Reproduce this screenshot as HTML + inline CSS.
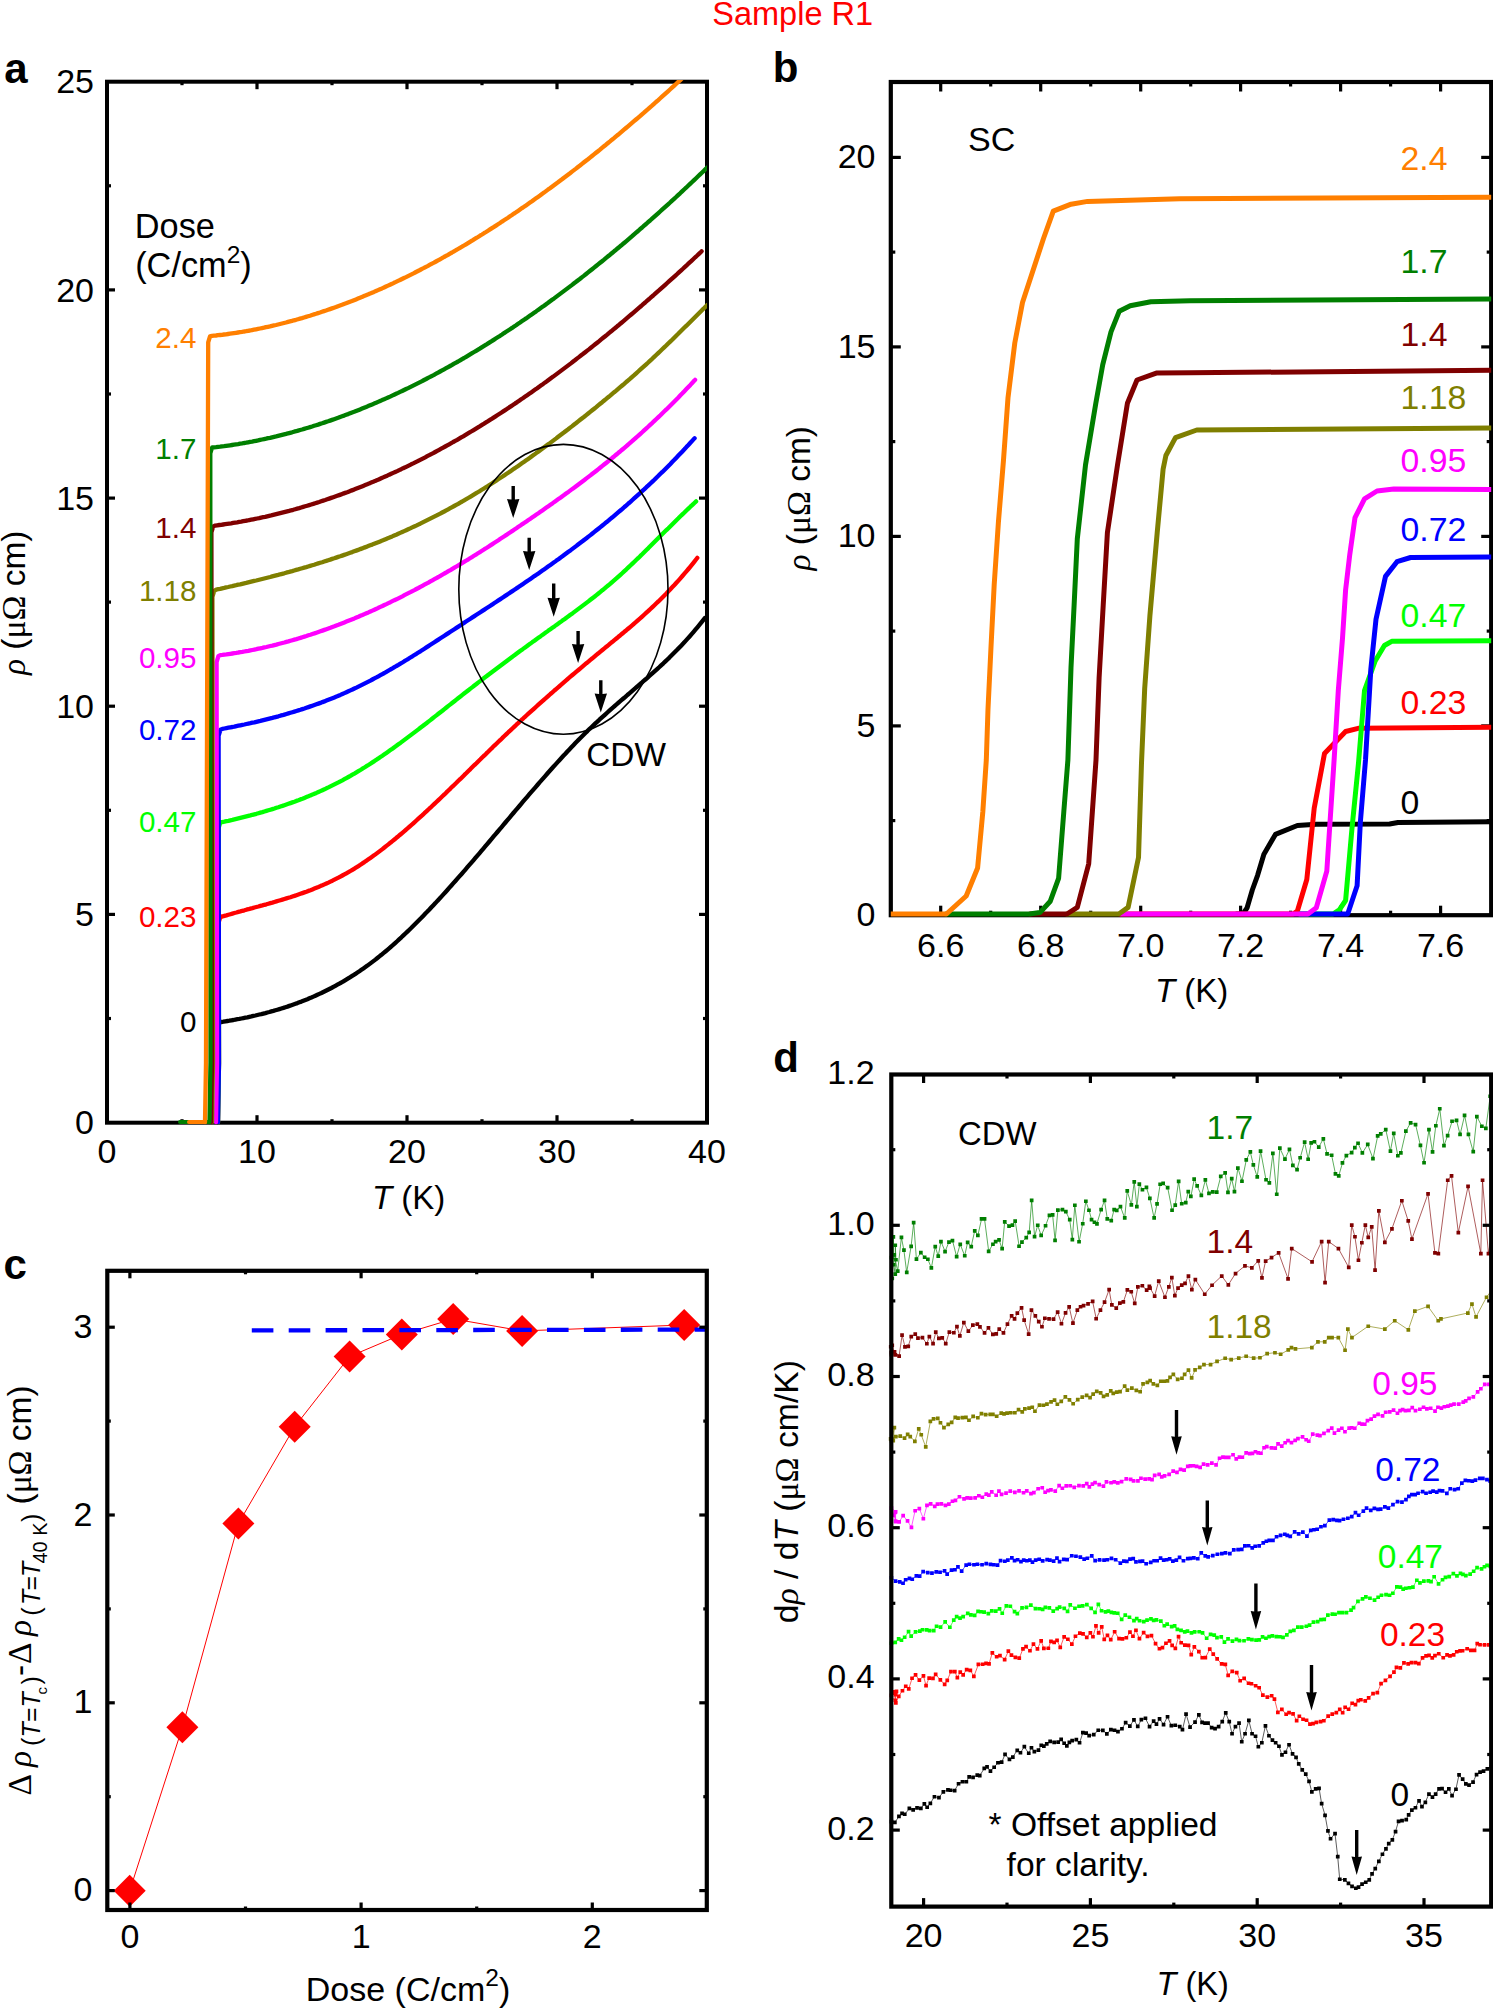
<!DOCTYPE html>
<html><head><meta charset="utf-8"><title>Sample R1</title><style>html,body{margin:0;padding:0;background:#fff;overflow:hidden}svg{display:block}</style></head><body>
<svg width="1493" height="2009" viewBox="0 0 1493 2009" font-family="'Liberation Sans', sans-serif">
<rect width="1493" height="2009" fill="#fff"/>
<text x="712.3" y="24.9" font-size="32.5" fill="#FF0000">Sample R1</text>
<text x="4.2" y="82.5" font-size="42" font-weight="bold">a</text>
<text x="772.7" y="82.2" font-size="42" font-weight="bold">b</text>
<text x="3.6" y="1278.8" font-size="42" font-weight="bold">c</text>
<text x="773.2" y="1072.2" font-size="42" font-weight="bold">d</text>
<rect x="107" y="81.7" width="600" height="1041" fill="none" stroke="#000" stroke-width="4"/>
<line x1="257" y1="1122.7" x2="257" y2="1115.2" stroke="#000" stroke-width="3.2"/>
<line x1="257" y1="81.7" x2="257" y2="89.2" stroke="#000" stroke-width="3.2"/>
<line x1="407" y1="1122.7" x2="407" y2="1115.2" stroke="#000" stroke-width="3.2"/>
<line x1="407" y1="81.7" x2="407" y2="89.2" stroke="#000" stroke-width="3.2"/>
<line x1="557" y1="1122.7" x2="557" y2="1115.2" stroke="#000" stroke-width="3.2"/>
<line x1="557" y1="81.7" x2="557" y2="89.2" stroke="#000" stroke-width="3.2"/>
<line x1="182" y1="1122.7" x2="182" y2="1119.2" stroke="#000" stroke-width="3.2"/>
<line x1="182" y1="81.7" x2="182" y2="85.2" stroke="#000" stroke-width="3.2"/>
<line x1="332" y1="1122.7" x2="332" y2="1119.2" stroke="#000" stroke-width="3.2"/>
<line x1="332" y1="81.7" x2="332" y2="85.2" stroke="#000" stroke-width="3.2"/>
<line x1="482" y1="1122.7" x2="482" y2="1119.2" stroke="#000" stroke-width="3.2"/>
<line x1="482" y1="81.7" x2="482" y2="85.2" stroke="#000" stroke-width="3.2"/>
<line x1="632" y1="1122.7" x2="632" y2="1119.2" stroke="#000" stroke-width="3.2"/>
<line x1="632" y1="81.7" x2="632" y2="85.2" stroke="#000" stroke-width="3.2"/>
<line x1="107" y1="914.4" x2="115" y2="914.4" stroke="#000" stroke-width="3.2"/>
<line x1="707" y1="914.4" x2="699" y2="914.4" stroke="#000" stroke-width="3.2"/>
<line x1="107" y1="706.2" x2="115" y2="706.2" stroke="#000" stroke-width="3.2"/>
<line x1="707" y1="706.2" x2="699" y2="706.2" stroke="#000" stroke-width="3.2"/>
<line x1="107" y1="498.1" x2="115" y2="498.1" stroke="#000" stroke-width="3.2"/>
<line x1="707" y1="498.1" x2="699" y2="498.1" stroke="#000" stroke-width="3.2"/>
<line x1="107" y1="289.9" x2="115" y2="289.9" stroke="#000" stroke-width="3.2"/>
<line x1="707" y1="289.9" x2="699" y2="289.9" stroke="#000" stroke-width="3.2"/>
<line x1="107" y1="1018.5" x2="111" y2="1018.5" stroke="#000" stroke-width="3.2"/>
<line x1="707" y1="1018.5" x2="703" y2="1018.5" stroke="#000" stroke-width="3.2"/>
<line x1="107" y1="810.3" x2="111" y2="810.3" stroke="#000" stroke-width="3.2"/>
<line x1="707" y1="810.3" x2="703" y2="810.3" stroke="#000" stroke-width="3.2"/>
<line x1="107" y1="602.1" x2="111" y2="602.1" stroke="#000" stroke-width="3.2"/>
<line x1="707" y1="602.1" x2="703" y2="602.1" stroke="#000" stroke-width="3.2"/>
<line x1="107" y1="394" x2="111" y2="394" stroke="#000" stroke-width="3.2"/>
<line x1="707" y1="394" x2="703" y2="394" stroke="#000" stroke-width="3.2"/>
<line x1="107" y1="185.8" x2="111" y2="185.8" stroke="#000" stroke-width="3.2"/>
<line x1="707" y1="185.8" x2="703" y2="185.8" stroke="#000" stroke-width="3.2"/>
<clipPath id="aclip"><rect x="107" y="80" width="600" height="1045"/></clipPath>
<g clip-path="url(#aclip)">
<path d="M180 1122 L209 1122" fill="none" stroke="#007F00" stroke-width="4" stroke-linejoin="round" stroke-linecap="round"/>
<path d="M189 1122 L205 1122" fill="none" stroke="#FF7F00" stroke-width="4" stroke-linejoin="round" stroke-linecap="round"/>
<path d="M217.5 1122.1 L218.5 1062.6 L217.6 1028.3 L219.4 1022.3 L221.4 1022 L223.4 1021.7 L225.4 1021.3 L227.4 1021 L229.4 1020.7 L231.4 1020.3 L233.4 1020 L235.4 1019.6 L237.4 1019.2 L239.4 1018.9 L241.4 1018.5 L243.4 1018.1 L245.4 1017.7 L247.4 1017.3 L249.4 1016.8 L251.4 1016.4 L253.4 1015.9 L255.4 1015.5 L257.4 1015 L259.4 1014.5 L261.4 1014.1 L263.4 1013.6 L265.4 1013.1 L267.4 1012.5 L269.4 1012 L271.4 1011.4 L273.4 1010.9 L275.4 1010.3 L277.4 1009.7 L279.4 1009.1 L281.4 1008.5 L283.4 1007.9 L285.4 1007.2 L287.4 1006.6 L289.4 1005.9 L291.4 1005.2 L293.4 1004.5 L295.4 1003.8 L297.4 1003.1 L299.4 1002.3 L301.4 1001.6 L303.4 1000.8 L305.4 1000 L307.4 999.2 L309.4 998.3 L311.4 997.5 L313.4 996.6 L315.4 995.7 L317.4 994.8 L319.4 993.9 L321.4 993 L323.4 992 L325.4 991 L327.4 990 L329.4 989 L331.4 988 L333.4 986.9 L335.4 985.8 L337.4 984.7 L339.4 983.6 L341.4 982.5 L343.4 981.3 L345.4 980.1 L347.4 978.9 L349.4 977.7 L351.4 976.4 L353.4 975.2 L355.4 973.9 L357.4 972.5 L359.4 971.2 L361.4 969.8 L363.4 968.4 L365.4 967 L367.4 965.6 L369.4 964.1 L371.4 962.6 L373.4 961.1 L375.4 959.6 L377.4 958 L379.4 956.4 L381.4 954.8 L383.4 953.1 L385.4 951.5 L387.4 949.8 L389.4 948.1 L391.4 946.3 L393.4 944.6 L395.4 942.8 L397.4 941 L399.4 939.1 L401.4 937.3 L403.4 935.4 L405.4 933.5 L407.4 931.6 L409.4 929.7 L411.4 927.8 L413.4 925.8 L415.4 923.8 L417.4 921.8 L419.4 919.8 L421.4 917.8 L423.4 915.7 L425.4 913.6 L427.4 911.6 L429.4 909.5 L431.4 907.3 L433.4 905.2 L435.4 903.1 L437.4 900.9 L439.4 898.8 L441.4 896.6 L443.4 894.4 L445.4 892.2 L447.4 890 L449.4 887.7 L451.4 885.5 L453.4 883.2 L455.4 881 L457.4 878.7 L459.4 876.4 L461.4 874.2 L463.4 871.9 L465.4 869.6 L467.4 867.2 L469.4 864.9 L471.4 862.6 L473.4 860.3 L475.4 857.9 L477.4 855.6 L479.4 853.3 L481.4 850.9 L483.4 848.6 L485.4 846.2 L487.4 843.8 L489.4 841.5 L491.4 839.1 L493.4 836.7 L495.4 834.4 L497.4 832 L499.4 829.6 L501.4 827.3 L503.4 824.9 L505.4 822.5 L507.4 820.1 L509.4 817.8 L511.4 815.4 L513.4 813 L515.4 810.7 L517.4 808.3 L519.4 806 L521.4 803.6 L523.4 801.2 L525.4 798.9 L527.4 796.6 L529.4 794.2 L531.4 791.9 L533.4 789.6 L535.4 787.3 L537.4 785 L539.4 782.6 L541.4 780.4 L543.4 778.1 L545.4 775.8 L547.4 773.5 L549.4 771.3 L551.4 769 L553.4 766.8 L555.4 764.6 L557.4 762.4 L559.4 760.2 L561.4 758 L563.4 755.8 L565.4 753.7 L567.4 751.5 L569.4 749.4 L571.4 747.3 L573.4 745.2 L575.4 743.1 L577.4 741.1 L579.4 739 L581.4 737 L583.4 735 L585.4 733 L587.4 731.1 L589.4 729.1 L591.4 727.2 L593.4 725.3 L595.4 723.4 L597.4 721.6 L599.4 719.7 L601.4 717.9 L603.4 716.1 L605.4 714.3 L607.4 712.5 L609.4 710.7 L611.4 708.9 L613.4 707.2 L615.4 705.4 L617.4 703.7 L619.4 701.9 L621.4 700.2 L623.4 698.5 L625.4 696.8 L627.4 695 L629.4 693.3 L631.4 691.6 L633.4 689.9 L635.4 688.2 L637.4 686.4 L639.4 684.7 L641.4 683 L643.4 681.2 L645.4 679.5 L647.4 677.8 L649.4 676 L651.4 674.2 L653.4 672.4 L655.4 670.6 L657.4 668.8 L659.4 667 L661.4 665.1 L663.4 663.3 L665.4 661.4 L667.4 659.5 L669.4 657.6 L671.4 655.6 L673.4 653.6 L675.4 651.6 L677.4 649.6 L679.4 647.5 L681.4 645.4 L683.4 643.3 L685.4 641.1 L687.4 638.9 L689.4 636.7 L691.4 634.4 L693.4 632.1 L695.4 629.7 L697.4 627.3 L699.4 624.9 L701.4 622.4 L703.4 619.9 L704.8 618.1" fill="none" stroke="#000000" stroke-width="4.3" stroke-linejoin="round" stroke-linecap="round"/>
<path d="M218 1122.1 L219 1062.6 L218.6 922.7 L220.4 916.7 L222.4 916.5 L224.4 915.9 L226.4 915.4 L228.4 914.8 L230.4 914.2 L232.4 913.6 L234.4 913 L236.4 912.5 L238.4 911.9 L240.4 911.4 L242.4 910.8 L244.4 910.3 L246.4 909.7 L248.4 909.2 L250.4 908.6 L252.4 908.1 L254.4 907.5 L256.4 907 L258.4 906.5 L260.4 905.9 L262.4 905.4 L264.4 904.8 L266.4 904.3 L268.4 903.7 L270.4 903.1 L272.4 902.6 L274.4 902 L276.4 901.4 L278.4 900.8 L280.4 900.2 L282.4 899.6 L284.4 899 L286.4 898.4 L288.4 897.8 L290.4 897.2 L292.4 896.5 L294.4 895.9 L296.4 895.2 L298.4 894.5 L300.4 893.8 L302.4 893.1 L304.4 892.4 L306.4 891.7 L308.4 890.9 L310.4 890.2 L312.4 889.4 L314.4 888.6 L316.4 887.8 L318.4 887 L320.4 886.1 L322.4 885.3 L324.4 884.4 L326.4 883.5 L328.4 882.6 L330.4 881.6 L332.4 880.7 L334.4 879.7 L336.4 878.7 L338.4 877.7 L340.4 876.6 L342.4 875.5 L344.4 874.4 L346.4 873.3 L348.4 872.2 L350.4 871 L352.4 869.8 L354.4 868.6 L356.4 867.3 L358.4 866.1 L360.4 864.8 L362.4 863.4 L364.4 862.1 L366.4 860.7 L368.4 859.3 L370.4 857.9 L372.4 856.5 L374.4 855.1 L376.4 853.6 L378.4 852.1 L380.4 850.6 L382.4 849.1 L384.4 847.5 L386.4 845.9 L388.4 844.4 L390.4 842.7 L392.4 841.1 L394.4 839.5 L396.4 837.8 L398.4 836.2 L400.4 834.5 L402.4 832.8 L404.4 831.1 L406.4 829.3 L408.4 827.6 L410.4 825.8 L412.4 824.1 L414.4 822.3 L416.4 820.5 L418.4 818.7 L420.4 816.9 L422.4 815.1 L424.4 813.2 L426.4 811.4 L428.4 809.5 L430.4 807.7 L432.4 805.8 L434.4 803.9 L436.4 802 L438.4 800.1 L440.4 798.2 L442.4 796.3 L444.4 794.4 L446.4 792.4 L448.4 790.5 L450.4 788.6 L452.4 786.6 L454.4 784.7 L456.4 782.8 L458.4 780.8 L460.4 778.9 L462.4 776.9 L464.4 774.9 L466.4 773 L468.4 771 L470.4 769.1 L472.4 767.1 L474.4 765.1 L476.4 763.2 L478.4 761.2 L480.4 759.3 L482.4 757.3 L484.4 755.4 L486.4 753.4 L488.4 751.5 L490.4 749.5 L492.4 747.6 L494.4 745.6 L496.4 743.7 L498.4 741.8 L500.4 739.9 L502.4 737.9 L504.4 736 L506.4 734.1 L508.4 732.2 L510.4 730.4 L512.4 728.5 L514.4 726.6 L516.4 724.7 L518.4 722.9 L520.4 721 L522.4 719.2 L524.4 717.3 L526.4 715.5 L528.4 713.7 L530.4 711.9 L532.4 710.1 L534.4 708.3 L536.4 706.5 L538.4 704.7 L540.4 702.9 L542.4 701.1 L544.4 699.3 L546.4 697.6 L548.4 695.8 L550.4 694 L552.4 692.3 L554.4 690.5 L556.4 688.8 L558.4 687.1 L560.4 685.3 L562.4 683.6 L564.4 681.9 L566.4 680.2 L568.4 678.4 L570.4 676.7 L572.4 675 L574.4 673.3 L576.4 671.6 L578.4 670 L580.4 668.3 L582.4 666.6 L584.4 664.9 L586.4 663.2 L588.4 661.6 L590.4 659.9 L592.4 658.3 L594.4 656.6 L596.4 654.9 L598.4 653.3 L600.4 651.6 L602.4 650 L604.4 648.4 L606.4 646.7 L608.4 645.1 L610.4 643.4 L612.4 641.8 L614.4 640.1 L616.4 638.5 L618.4 636.8 L620.4 635.2 L622.4 633.5 L624.4 631.8 L626.4 630.2 L628.4 628.5 L630.4 626.8 L632.4 625.1 L634.4 623.3 L636.4 621.6 L638.4 619.8 L640.4 618.1 L642.4 616.3 L644.4 614.5 L646.4 612.7 L648.4 610.9 L650.4 609 L652.4 607.1 L654.4 605.2 L656.4 603.3 L658.4 601.4 L660.4 599.4 L662.4 597.4 L664.4 595.4 L666.4 593.4 L668.4 591.3 L670.4 589.2 L672.4 587.1 L674.4 585 L676.4 582.8 L678.4 580.6 L680.4 578.3 L682.4 576 L684.4 573.7 L686.4 571.4 L688.4 569 L690.4 566.6 L692.4 564.1 L694.4 561.6 L696.4 559 L697.3 557.9" fill="none" stroke="#FF0000" stroke-width="4.3" stroke-linejoin="round" stroke-linecap="round"/>
<path d="M218 1122.1 L219 1062.6 L218.6 828.2 L220.4 822.2 L222.4 822.1 L224.4 821.7 L226.4 821.2 L228.4 820.8 L230.4 820.3 L232.4 819.9 L234.4 819.4 L236.4 818.9 L238.4 818.4 L240.4 817.9 L242.4 817.4 L244.4 816.9 L246.4 816.4 L248.4 815.9 L250.4 815.4 L252.4 814.8 L254.4 814.3 L256.4 813.8 L258.4 813.2 L260.4 812.6 L262.4 812.1 L264.4 811.5 L266.4 810.9 L268.4 810.3 L270.4 809.7 L272.4 809.1 L274.4 808.5 L276.4 807.8 L278.4 807.2 L280.4 806.5 L282.4 805.9 L284.4 805.2 L286.4 804.5 L288.4 803.8 L290.4 803.1 L292.4 802.4 L294.4 801.7 L296.4 800.9 L298.4 800.2 L300.4 799.4 L302.4 798.7 L304.4 797.9 L306.4 797.1 L308.4 796.3 L310.4 795.4 L312.4 794.6 L314.4 793.7 L316.4 792.9 L318.4 792 L320.4 791.1 L322.4 790.2 L324.4 789.3 L326.4 788.3 L328.4 787.4 L330.4 786.4 L332.4 785.4 L334.4 784.4 L336.4 783.4 L338.4 782.4 L340.4 781.3 L342.4 780.3 L344.4 779.2 L346.4 778.1 L348.4 777 L350.4 775.9 L352.4 774.7 L354.4 773.6 L356.4 772.4 L358.4 771.2 L360.4 770 L362.4 768.7 L364.4 767.5 L366.4 766.2 L368.4 765 L370.4 763.7 L372.4 762.4 L374.4 761.1 L376.4 759.7 L378.4 758.4 L380.4 757 L382.4 755.7 L384.4 754.3 L386.4 752.9 L388.4 751.5 L390.4 750.1 L392.4 748.7 L394.4 747.2 L396.4 745.8 L398.4 744.3 L400.4 742.9 L402.4 741.4 L404.4 739.9 L406.4 738.4 L408.4 736.9 L410.4 735.4 L412.4 733.9 L414.4 732.4 L416.4 730.9 L418.4 729.4 L420.4 727.8 L422.4 726.3 L424.4 724.7 L426.4 723.2 L428.4 721.6 L430.4 720.1 L432.4 718.5 L434.4 716.9 L436.4 715.4 L438.4 713.8 L440.4 712.2 L442.4 710.7 L444.4 709.1 L446.4 707.5 L448.4 705.9 L450.4 704.4 L452.4 702.8 L454.4 701.2 L456.4 699.6 L458.4 698 L460.4 696.5 L462.4 694.9 L464.4 693.3 L466.4 691.8 L468.4 690.2 L470.4 688.6 L472.4 687.1 L474.4 685.5 L476.4 684 L478.4 682.4 L480.4 680.9 L482.4 679.3 L484.4 677.8 L486.4 676.3 L488.4 674.7 L490.4 673.2 L492.4 671.7 L494.4 670.2 L496.4 668.7 L498.4 667.2 L500.4 665.7 L502.4 664.2 L504.4 662.7 L506.4 661.2 L508.4 659.7 L510.4 658.2 L512.4 656.7 L514.4 655.3 L516.4 653.8 L518.4 652.3 L520.4 650.8 L522.4 649.4 L524.4 647.9 L526.4 646.5 L528.4 645 L530.4 643.6 L532.4 642.1 L534.4 640.7 L536.4 639.2 L538.4 637.8 L540.4 636.4 L542.4 634.9 L544.4 633.5 L546.4 632.1 L548.4 630.6 L550.4 629.2 L552.4 627.8 L554.4 626.4 L556.4 624.9 L558.4 623.5 L560.4 622.1 L562.4 620.6 L564.4 619.2 L566.4 617.7 L568.4 616.3 L570.4 614.8 L572.4 613.4 L574.4 611.9 L576.4 610.4 L578.4 608.9 L580.4 607.4 L582.4 605.9 L584.4 604.4 L586.4 602.9 L588.4 601.4 L590.4 599.8 L592.4 598.2 L594.4 596.7 L596.4 595.1 L598.4 593.5 L600.4 591.9 L602.4 590.2 L604.4 588.6 L606.4 586.9 L608.4 585.3 L610.4 583.6 L612.4 581.8 L614.4 580.1 L616.4 578.4 L618.4 576.6 L620.4 574.8 L622.4 573 L624.4 571.1 L626.4 569.3 L628.4 567.4 L630.4 565.5 L632.4 563.6 L634.4 561.7 L636.4 559.8 L638.4 557.9 L640.4 555.9 L642.4 554 L644.4 552 L646.4 550 L648.4 548.1 L650.4 546.1 L652.4 544.1 L654.4 542.1 L656.4 540.1 L658.4 538.1 L660.4 536.1 L662.4 534.1 L664.4 532.1 L666.4 530.1 L668.4 528.2 L670.4 526.2 L672.4 524.2 L674.4 522.2 L676.4 520.2 L678.4 518.3 L680.4 516.3 L682.4 514.4 L684.4 512.5 L686.4 510.5 L688.4 508.6 L690.4 506.7 L692.4 504.9 L694.4 503 L696.1 501.4" fill="none" stroke="#00FF00" stroke-width="4.3" stroke-linejoin="round" stroke-linecap="round"/>
<path d="M218 1122.1 L219 1062.6 L218.6 735.8 L220.4 729.8 L222.4 728.9 L224.4 728.5 L226.4 728.1 L228.4 727.7 L230.4 727.3 L232.4 727 L234.4 726.6 L236.4 726.1 L238.4 725.7 L240.4 725.3 L242.4 724.9 L244.4 724.5 L246.4 724 L248.4 723.6 L250.4 723.2 L252.4 722.7 L254.4 722.3 L256.4 721.8 L258.4 721.3 L260.4 720.9 L262.4 720.4 L264.4 719.9 L266.4 719.4 L268.4 718.9 L270.4 718.4 L272.4 717.9 L274.4 717.3 L276.4 716.8 L278.4 716.3 L280.4 715.7 L282.4 715.2 L284.4 714.6 L286.4 714 L288.4 713.4 L290.4 712.8 L292.4 712.2 L294.4 711.6 L296.4 711 L298.4 710.4 L300.4 709.8 L302.4 709.1 L304.4 708.5 L306.4 707.8 L308.4 707.1 L310.4 706.4 L312.4 705.7 L314.4 705 L316.4 704.3 L318.4 703.6 L320.4 702.9 L322.4 702.1 L324.4 701.4 L326.4 700.6 L328.4 699.8 L330.4 699 L332.4 698.2 L334.4 697.4 L336.4 696.6 L338.4 695.7 L340.4 694.9 L342.4 694 L344.4 693.1 L346.4 692.2 L348.4 691.3 L350.4 690.4 L352.4 689.5 L354.4 688.5 L356.4 687.6 L358.4 686.6 L360.4 685.6 L362.4 684.6 L364.4 683.6 L366.4 682.6 L368.4 681.6 L370.4 680.6 L372.4 679.5 L374.4 678.4 L376.4 677.4 L378.4 676.3 L380.4 675.2 L382.4 674.1 L384.4 673 L386.4 671.8 L388.4 670.7 L390.4 669.5 L392.4 668.4 L394.4 667.2 L396.4 666 L398.4 664.9 L400.4 663.7 L402.4 662.5 L404.4 661.2 L406.4 660 L408.4 658.8 L410.4 657.5 L412.4 656.3 L414.4 655 L416.4 653.8 L418.4 652.5 L420.4 651.3 L422.4 650 L424.4 648.7 L426.4 647.4 L428.4 646.1 L430.4 644.8 L432.4 643.5 L434.4 642.2 L436.4 640.9 L438.4 639.6 L440.4 638.3 L442.4 637 L444.4 635.7 L446.4 634.4 L448.4 633.1 L450.4 631.8 L452.4 630.5 L454.4 629.2 L456.4 627.9 L458.4 626.6 L460.4 625.3 L462.4 623.9 L464.4 622.6 L466.4 621.3 L468.4 620 L470.4 618.7 L472.4 617.4 L474.4 616.1 L476.4 614.8 L478.4 613.5 L480.4 612.2 L482.4 610.9 L484.4 609.6 L486.4 608.3 L488.4 607 L490.4 605.7 L492.4 604.4 L494.4 603 L496.4 601.7 L498.4 600.4 L500.4 599.1 L502.4 597.8 L504.4 596.4 L506.4 595.1 L508.4 593.8 L510.4 592.4 L512.4 591.1 L514.4 589.8 L516.4 588.4 L518.4 587.1 L520.4 585.7 L522.4 584.4 L524.4 583 L526.4 581.6 L528.4 580.3 L530.4 578.9 L532.4 577.5 L534.4 576.1 L536.4 574.8 L538.4 573.4 L540.4 572 L542.4 570.6 L544.4 569.2 L546.4 567.8 L548.4 566.3 L550.4 564.9 L552.4 563.5 L554.4 562.1 L556.4 560.6 L558.4 559.2 L560.4 557.7 L562.4 556.3 L564.4 554.8 L566.4 553.3 L568.4 551.8 L570.4 550.4 L572.4 548.9 L574.4 547.4 L576.4 545.9 L578.4 544.3 L580.4 542.8 L582.4 541.3 L584.4 539.7 L586.4 538.2 L588.4 536.6 L590.4 535.1 L592.4 533.5 L594.4 531.9 L596.4 530.3 L598.4 528.7 L600.4 527.1 L602.4 525.5 L604.4 523.9 L606.4 522.2 L608.4 520.6 L610.4 518.9 L612.4 517.3 L614.4 515.6 L616.4 513.9 L618.4 512.2 L620.4 510.5 L622.4 508.8 L624.4 507 L626.4 505.3 L628.4 503.5 L630.4 501.8 L632.4 500 L634.4 498.2 L636.4 496.4 L638.4 494.6 L640.4 492.8 L642.4 490.9 L644.4 489.1 L646.4 487.2 L648.4 485.4 L650.4 483.5 L652.4 481.6 L654.4 479.7 L656.4 477.7 L658.4 475.8 L660.4 473.8 L662.4 471.9 L664.4 469.9 L666.4 467.9 L668.4 465.9 L670.4 463.9 L672.4 461.8 L674.4 459.8 L676.4 457.7 L678.4 455.6 L680.4 453.5 L682.4 451.4 L684.4 449.3 L686.4 447.1 L688.4 445 L690.4 442.8 L692.4 440.6 L694.4 438.4 L694.6 438.2" fill="none" stroke="#0000FF" stroke-width="4.3" stroke-linejoin="round" stroke-linecap="round"/>
<path d="M216 1122.1 L217 1062.6 L216.6 662.2 L218.4 656.2 L220.4 655.1 L222.4 654.9 L224.4 654.6 L226.4 654.4 L228.4 654.1 L230.4 653.8 L232.4 653.5 L234.4 653.2 L236.4 652.9 L238.4 652.5 L240.4 652.2 L242.4 651.9 L244.4 651.5 L246.4 651.1 L248.4 650.8 L250.4 650.4 L252.4 650 L254.4 649.6 L256.4 649.2 L258.4 648.7 L260.4 648.3 L262.4 647.9 L264.4 647.4 L266.4 647 L268.4 646.5 L270.4 646 L272.4 645.6 L274.4 645.1 L276.4 644.6 L278.4 644 L280.4 643.5 L282.4 643 L284.4 642.5 L286.4 641.9 L288.4 641.4 L290.4 640.8 L292.4 640.2 L294.4 639.6 L296.4 639.1 L298.4 638.5 L300.4 637.9 L302.4 637.2 L304.4 636.6 L306.4 636 L308.4 635.3 L310.4 634.7 L312.4 634 L314.4 633.4 L316.4 632.7 L318.4 632 L320.4 631.3 L322.4 630.6 L324.4 629.9 L326.4 629.2 L328.4 628.5 L330.4 627.8 L332.4 627 L334.4 626.3 L336.4 625.5 L338.4 624.8 L340.4 624 L342.4 623.2 L344.4 622.4 L346.4 621.6 L348.4 620.8 L350.4 620 L352.4 619.2 L354.4 618.4 L356.4 617.5 L358.4 616.7 L360.4 615.8 L362.4 615 L364.4 614.1 L366.4 613.2 L368.4 612.4 L370.4 611.5 L372.4 610.6 L374.4 609.7 L376.4 608.8 L378.4 607.8 L380.4 606.9 L382.4 606 L384.4 605 L386.4 604.1 L388.4 603.1 L390.4 602.2 L392.4 601.2 L394.4 600.2 L396.4 599.3 L398.4 598.3 L400.4 597.3 L402.4 596.3 L404.4 595.2 L406.4 594.2 L408.4 593.2 L410.4 592.2 L412.4 591.1 L414.4 590.1 L416.4 589 L418.4 588 L420.4 586.9 L422.4 585.8 L424.4 584.7 L426.4 583.6 L428.4 582.6 L430.4 581.4 L432.4 580.3 L434.4 579.2 L436.4 578.1 L438.4 577 L440.4 575.8 L442.4 574.7 L444.4 573.5 L446.4 572.4 L448.4 571.2 L450.4 570.1 L452.4 568.9 L454.4 567.7 L456.4 566.5 L458.4 565.3 L460.4 564.1 L462.4 562.9 L464.4 561.7 L466.4 560.5 L468.4 559.3 L470.4 558 L472.4 556.8 L474.4 555.5 L476.4 554.3 L478.4 553 L480.4 551.8 L482.4 550.5 L484.4 549.2 L486.4 548 L488.4 546.7 L490.4 545.4 L492.4 544.1 L494.4 542.8 L496.4 541.5 L498.4 540.2 L500.4 538.8 L502.4 537.5 L504.4 536.2 L506.4 534.9 L508.4 533.5 L510.4 532.2 L512.4 530.9 L514.4 529.5 L516.4 528.2 L518.4 526.8 L520.4 525.5 L522.4 524.1 L524.4 522.8 L526.4 521.4 L528.4 520 L530.4 518.7 L532.4 517.3 L534.4 515.9 L536.4 514.5 L538.4 513.2 L540.4 511.8 L542.4 510.4 L544.4 509 L546.4 507.6 L548.4 506.2 L550.4 504.8 L552.4 503.4 L554.4 501.9 L556.4 500.5 L558.4 499.1 L560.4 497.7 L562.4 496.2 L564.4 494.8 L566.4 493.3 L568.4 491.9 L570.4 490.4 L572.4 488.9 L574.4 487.5 L576.4 486 L578.4 484.5 L580.4 483 L582.4 481.5 L584.4 480 L586.4 478.4 L588.4 476.9 L590.4 475.4 L592.4 473.8 L594.4 472.3 L596.4 470.7 L598.4 469.1 L600.4 467.5 L602.4 465.9 L604.4 464.3 L606.4 462.7 L608.4 461.1 L610.4 459.5 L612.4 457.8 L614.4 456.2 L616.4 454.5 L618.4 452.8 L620.4 451.2 L622.4 449.5 L624.4 447.8 L626.4 446.1 L628.4 444.3 L630.4 442.6 L632.4 440.9 L634.4 439.1 L636.4 437.3 L638.4 435.6 L640.4 433.8 L642.4 432 L644.4 430.1 L646.4 428.3 L648.4 426.5 L650.4 424.6 L652.4 422.8 L654.4 420.9 L656.4 419 L658.4 417.1 L660.4 415.2 L662.4 413.2 L664.4 411.3 L666.4 409.4 L668.4 407.4 L670.4 405.4 L672.4 403.4 L674.4 401.4 L676.4 399.4 L678.4 397.4 L680.4 395.3 L682.4 393.3 L684.4 391.2 L686.4 389.1 L688.4 387 L690.4 384.9 L692.4 382.7 L694.4 380.6 L695.1 379.8" fill="none" stroke="#FF00FF" stroke-width="4.3" stroke-linejoin="round" stroke-linecap="round"/>
<path d="M212 1122.1 L213 1062.6 L212.4 596.8 L214.2 590.8 L216.2 589.6 L218.2 589.2 L220.2 588.8 L222.2 588.3 L224.2 587.9 L226.2 587.4 L228.2 587 L230.2 586.5 L232.2 586.1 L234.2 585.6 L236.2 585.2 L238.2 584.7 L240.2 584.3 L242.2 583.8 L244.2 583.3 L246.2 582.9 L248.2 582.4 L250.2 581.9 L252.2 581.4 L254.2 580.9 L256.2 580.5 L258.2 580 L260.2 579.5 L262.2 579 L264.2 578.5 L266.2 578 L268.2 577.5 L270.2 577 L272.2 576.4 L274.2 575.9 L276.2 575.4 L278.2 574.9 L280.2 574.3 L282.2 573.8 L284.2 573.3 L286.2 572.7 L288.2 572.2 L290.2 571.6 L292.2 571.1 L294.2 570.5 L296.2 569.9 L298.2 569.4 L300.2 568.8 L302.2 568.2 L304.2 567.6 L306.2 567.1 L308.2 566.5 L310.2 565.9 L312.2 565.3 L314.2 564.7 L316.2 564 L318.2 563.4 L320.2 562.8 L322.2 562.2 L324.2 561.5 L326.2 560.9 L328.2 560.2 L330.2 559.6 L332.2 558.9 L334.2 558.3 L336.2 557.6 L338.2 556.9 L340.2 556.3 L342.2 555.6 L344.2 554.9 L346.2 554.2 L348.2 553.5 L350.2 552.8 L352.2 552.1 L354.2 551.3 L356.2 550.6 L358.2 549.9 L360.2 549.1 L362.2 548.4 L364.2 547.6 L366.2 546.9 L368.2 546.1 L370.2 545.3 L372.2 544.6 L374.2 543.8 L376.2 543 L378.2 542.2 L380.2 541.4 L382.2 540.6 L384.2 539.7 L386.2 538.9 L388.2 538.1 L390.2 537.2 L392.2 536.4 L394.2 535.5 L396.2 534.7 L398.2 533.8 L400.2 532.9 L402.2 532 L404.2 531.1 L406.2 530.2 L408.2 529.3 L410.2 528.4 L412.2 527.4 L414.2 526.5 L416.2 525.6 L418.2 524.6 L420.2 523.7 L422.2 522.7 L424.2 521.7 L426.2 520.7 L428.2 519.7 L430.2 518.7 L432.2 517.7 L434.2 516.7 L436.2 515.7 L438.2 514.6 L440.2 513.6 L442.2 512.5 L444.2 511.5 L446.2 510.4 L448.2 509.3 L450.2 508.2 L452.2 507.1 L454.2 506 L456.2 504.9 L458.2 503.8 L460.2 502.6 L462.2 501.5 L464.2 500.3 L466.2 499.2 L468.2 498 L470.2 496.8 L472.2 495.6 L474.2 494.4 L476.2 493.2 L478.2 492 L480.2 490.8 L482.2 489.5 L484.2 488.3 L486.2 487 L488.2 485.8 L490.2 484.5 L492.2 483.2 L494.2 481.9 L496.2 480.6 L498.2 479.3 L500.2 478 L502.2 476.7 L504.2 475.4 L506.2 474 L508.2 472.7 L510.2 471.4 L512.2 470 L514.2 468.6 L516.2 467.3 L518.2 465.9 L520.2 464.5 L522.2 463.1 L524.2 461.7 L526.2 460.3 L528.2 458.9 L530.2 457.5 L532.2 456 L534.2 454.6 L536.2 453.1 L538.2 451.7 L540.2 450.2 L542.2 448.8 L544.2 447.3 L546.2 445.8 L548.2 444.3 L550.2 442.9 L552.2 441.4 L554.2 439.9 L556.2 438.4 L558.2 436.8 L560.2 435.3 L562.2 433.8 L564.2 432.3 L566.2 430.7 L568.2 429.2 L570.2 427.6 L572.2 426.1 L574.2 424.5 L576.2 423 L578.2 421.4 L580.2 419.8 L582.2 418.2 L584.2 416.7 L586.2 415.1 L588.2 413.5 L590.2 411.9 L592.2 410.3 L594.2 408.7 L596.2 407.1 L598.2 405.4 L600.2 403.8 L602.2 402.2 L604.2 400.5 L606.2 398.9 L608.2 397.2 L610.2 395.6 L612.2 393.9 L614.2 392.2 L616.2 390.6 L618.2 388.9 L620.2 387.2 L622.2 385.5 L624.2 383.8 L626.2 382 L628.2 380.3 L630.2 378.6 L632.2 376.8 L634.2 375.1 L636.2 373.3 L638.2 371.5 L640.2 369.7 L642.2 367.9 L644.2 366.1 L646.2 364.3 L648.2 362.5 L650.2 360.6 L652.2 358.8 L654.2 356.9 L656.2 355 L658.2 353.1 L660.2 351.2 L662.2 349.3 L664.2 347.4 L666.2 345.5 L668.2 343.5 L670.2 341.6 L672.2 339.7 L674.2 337.7 L676.2 335.7 L678.2 333.8 L680.2 331.8 L682.2 329.8 L684.2 327.8 L686.2 325.9 L688.2 323.9 L690.2 321.9 L692.2 319.9 L694.2 317.9 L696.2 315.9 L698.2 313.9 L700.2 311.9 L702.2 309.9 L704.2 308 L706.2 306 L707.2 305" fill="none" stroke="#7F7F00" stroke-width="4.3" stroke-linejoin="round" stroke-linecap="round"/>
<path d="M211 1122.1 L212 1062.6 L211.4 532.4 L213.2 526.4 L215.2 525.6 L217.2 525.3 L219.2 525 L221.2 524.8 L223.2 524.5 L225.2 524.2 L227.2 523.9 L229.2 523.6 L231.2 523.3 L233.2 522.9 L235.2 522.6 L237.2 522.3 L239.2 521.9 L241.2 521.6 L243.2 521.2 L245.2 520.8 L247.2 520.5 L249.2 520.1 L251.2 519.7 L253.2 519.3 L255.2 518.9 L257.2 518.5 L259.2 518.1 L261.2 517.6 L263.2 517.2 L265.2 516.8 L267.2 516.3 L269.2 515.8 L271.2 515.4 L273.2 514.9 L275.2 514.4 L277.2 513.9 L279.2 513.4 L281.2 512.9 L283.2 512.4 L285.2 511.9 L287.2 511.4 L289.2 510.9 L291.2 510.3 L293.2 509.8 L295.2 509.2 L297.2 508.6 L299.2 508.1 L301.2 507.5 L303.2 506.9 L305.2 506.3 L307.2 505.7 L309.2 505.1 L311.2 504.5 L313.2 503.9 L315.2 503.2 L317.2 502.6 L319.2 502 L321.2 501.3 L323.2 500.6 L325.2 500 L327.2 499.3 L329.2 498.6 L331.2 497.9 L333.2 497.2 L335.2 496.5 L337.2 495.8 L339.2 495.1 L341.2 494.4 L343.2 493.6 L345.2 492.9 L347.2 492.2 L349.2 491.4 L351.2 490.6 L353.2 489.9 L355.2 489.1 L357.2 488.3 L359.2 487.5 L361.2 486.7 L363.2 485.9 L365.2 485.1 L367.2 484.3 L369.2 483.4 L371.2 482.6 L373.2 481.8 L375.2 480.9 L377.2 480.1 L379.2 479.2 L381.2 478.3 L383.2 477.4 L385.2 476.5 L387.2 475.7 L389.2 474.7 L391.2 473.8 L393.2 472.9 L395.2 472 L397.2 471.1 L399.2 470.1 L401.2 469.2 L403.2 468.2 L405.2 467.3 L407.2 466.3 L409.2 465.3 L411.2 464.3 L413.2 463.4 L415.2 462.4 L417.2 461.4 L419.2 460.3 L421.2 459.3 L423.2 458.3 L425.2 457.3 L427.2 456.2 L429.2 455.2 L431.2 454.1 L433.2 453.1 L435.2 452 L437.2 450.9 L439.2 449.8 L441.2 448.7 L443.2 447.6 L445.2 446.5 L447.2 445.4 L449.2 444.3 L451.2 443.2 L453.2 442 L455.2 440.9 L457.2 439.8 L459.2 438.6 L461.2 437.4 L463.2 436.3 L465.2 435.1 L467.2 433.9 L469.2 432.7 L471.2 431.5 L473.2 430.3 L475.2 429.1 L477.2 427.9 L479.2 426.7 L481.2 425.4 L483.2 424.2 L485.2 422.9 L487.2 421.7 L489.2 420.4 L491.2 419.2 L493.2 417.9 L495.2 416.6 L497.2 415.3 L499.2 414 L501.2 412.7 L503.2 411.4 L505.2 410.1 L507.2 408.8 L509.2 407.4 L511.2 406.1 L513.2 404.8 L515.2 403.4 L517.2 402.1 L519.2 400.7 L521.2 399.3 L523.2 398 L525.2 396.6 L527.2 395.2 L529.2 393.8 L531.2 392.4 L533.2 391 L535.2 389.6 L537.2 388.2 L539.2 386.7 L541.2 385.3 L543.2 383.9 L545.2 382.4 L547.2 381 L549.2 379.5 L551.2 378 L553.2 376.6 L555.2 375.1 L557.2 373.6 L559.2 372.1 L561.2 370.6 L563.2 369.1 L565.2 367.6 L567.2 366.1 L569.2 364.6 L571.2 363.1 L573.2 361.5 L575.2 360 L577.2 358.4 L579.2 356.9 L581.2 355.3 L583.2 353.8 L585.2 352.2 L587.2 350.6 L589.2 349.1 L591.2 347.5 L593.2 345.9 L595.2 344.3 L597.2 342.7 L599.2 341.1 L601.2 339.4 L603.2 337.8 L605.2 336.2 L607.2 334.6 L609.2 332.9 L611.2 331.3 L613.2 329.6 L615.2 328 L617.2 326.3 L619.2 324.7 L621.2 323 L623.2 321.3 L625.2 319.6 L627.2 317.9 L629.2 316.2 L631.2 314.5 L633.2 312.8 L635.2 311.1 L637.2 309.4 L639.2 307.7 L641.2 306 L643.2 304.2 L645.2 302.5 L647.2 300.7 L649.2 299 L651.2 297.2 L653.2 295.5 L655.2 293.7 L657.2 291.9 L659.2 290.2 L661.2 288.4 L663.2 286.6 L665.2 284.8 L667.2 283 L669.2 281.2 L671.2 279.4 L673.2 277.6 L675.2 275.8 L677.2 274 L679.2 272.1 L681.2 270.3 L683.2 268.5 L685.2 266.6 L687.2 264.8 L689.2 262.9 L691.2 261.1 L693.2 259.2 L695.2 257.3 L697.2 255.5 L699.2 253.6 L701.2 251.7 L701.6 251.3" fill="none" stroke="#7F0000" stroke-width="4.3" stroke-linejoin="round" stroke-linecap="round"/>
<path d="M209.5 1122.1 L210.5 1062.6 L210.3 453.5 L212.1 447.5 L214.1 447.4 L216.1 447.2 L218.1 446.9 L220.1 446.7 L222.1 446.4 L224.1 446.2 L226.1 445.9 L228.1 445.6 L230.1 445.3 L232.1 445 L234.1 444.7 L236.1 444.4 L238.1 444.1 L240.1 443.7 L242.1 443.4 L244.1 443 L246.1 442.7 L248.1 442.3 L250.1 441.9 L252.1 441.6 L254.1 441.2 L256.1 440.8 L258.1 440.4 L260.1 439.9 L262.1 439.5 L264.1 439.1 L266.1 438.7 L268.1 438.2 L270.1 437.8 L272.1 437.3 L274.1 436.8 L276.1 436.4 L278.1 435.9 L280.1 435.4 L282.1 434.9 L284.1 434.4 L286.1 433.9 L288.1 433.3 L290.1 432.8 L292.1 432.3 L294.1 431.7 L296.1 431.2 L298.1 430.6 L300.1 430 L302.1 429.5 L304.1 428.9 L306.1 428.3 L308.1 427.7 L310.1 427.1 L312.1 426.5 L314.1 425.8 L316.1 425.2 L318.1 424.6 L320.1 423.9 L322.1 423.3 L324.1 422.6 L326.1 421.9 L328.1 421.3 L330.1 420.6 L332.1 419.9 L334.1 419.2 L336.1 418.5 L338.1 417.8 L340.1 417 L342.1 416.3 L344.1 415.6 L346.1 414.8 L348.1 414.1 L350.1 413.3 L352.1 412.5 L354.1 411.8 L356.1 411 L358.1 410.2 L360.1 409.4 L362.1 408.6 L364.1 407.8 L366.1 407 L368.1 406.1 L370.1 405.3 L372.1 404.5 L374.1 403.6 L376.1 402.8 L378.1 401.9 L380.1 401 L382.1 400.1 L384.1 399.3 L386.1 398.4 L388.1 397.5 L390.1 396.6 L392.1 395.6 L394.1 394.7 L396.1 393.8 L398.1 392.9 L400.1 391.9 L402.1 391 L404.1 390 L406.1 389 L408.1 388.1 L410.1 387.1 L412.1 386.1 L414.1 385.1 L416.1 384.1 L418.1 383.1 L420.1 382.1 L422.1 381.1 L424.1 380 L426.1 379 L428.1 377.9 L430.1 376.9 L432.1 375.8 L434.1 374.8 L436.1 373.7 L438.1 372.6 L440.1 371.5 L442.1 370.4 L444.1 369.3 L446.1 368.2 L448.1 367.1 L450.1 366 L452.1 364.9 L454.1 363.7 L456.1 362.6 L458.1 361.5 L460.1 360.3 L462.1 359.1 L464.1 358 L466.1 356.8 L468.1 355.6 L470.1 354.4 L472.1 353.2 L474.1 352 L476.1 350.8 L478.1 349.6 L480.1 348.4 L482.1 347.1 L484.1 345.9 L486.1 344.7 L488.1 343.4 L490.1 342.1 L492.1 340.9 L494.1 339.6 L496.1 338.3 L498.1 337 L500.1 335.8 L502.1 334.5 L504.1 333.1 L506.1 331.8 L508.1 330.5 L510.1 329.2 L512.1 327.9 L514.1 326.5 L516.1 325.2 L518.1 323.8 L520.1 322.5 L522.1 321.1 L524.1 319.7 L526.1 318.4 L528.1 317 L530.1 315.6 L532.1 314.2 L534.1 312.8 L536.1 311.4 L538.1 309.9 L540.1 308.5 L542.1 307.1 L544.1 305.7 L546.1 304.2 L548.1 302.8 L550.1 301.3 L552.1 299.8 L554.1 298.4 L556.1 296.9 L558.1 295.4 L560.1 293.9 L562.1 292.4 L564.1 290.9 L566.1 289.4 L568.1 287.9 L570.1 286.4 L572.1 284.9 L574.1 283.3 L576.1 281.8 L578.1 280.2 L580.1 278.7 L582.1 277.1 L584.1 275.6 L586.1 274 L588.1 272.4 L590.1 270.8 L592.1 269.2 L594.1 267.6 L596.1 266 L598.1 264.4 L600.1 262.8 L602.1 261.2 L604.1 259.6 L606.1 257.9 L608.1 256.3 L610.1 254.7 L612.1 253 L614.1 251.3 L616.1 249.7 L618.1 248 L620.1 246.3 L622.1 244.7 L624.1 243 L626.1 241.3 L628.1 239.6 L630.1 237.9 L632.1 236.2 L634.1 234.4 L636.1 232.7 L638.1 231 L640.1 229.2 L642.1 227.5 L644.1 225.7 L646.1 224 L648.1 222.2 L650.1 220.5 L652.1 218.7 L654.1 216.9 L656.1 215.1 L658.1 213.3 L660.1 211.5 L662.1 209.7 L664.1 207.9 L666.1 206.1 L668.1 204.3 L670.1 202.5 L672.1 200.6 L674.1 198.8 L676.1 197 L678.1 195.1 L680.1 193.3 L682.1 191.4 L684.1 189.5 L686.1 187.7 L688.1 185.8 L690.1 183.9 L692.1 182 L694.1 180.1 L696.1 178.2 L698.1 176.3 L700.1 174.4 L702.1 172.5 L704.1 170.6 L706.1 168.6 L707.2 167.6" fill="none" stroke="#007F00" stroke-width="4.3" stroke-linejoin="round" stroke-linecap="round"/>
<path d="M205 1122.1 L206 1062.6 L208.2 342.4 L210 336.4 L212 335.9 L214 335.7 L216 335.5 L218 335.2 L220 335 L222 334.8 L224 334.5 L226 334.3 L228 334 L230 333.7 L232 333.4 L234 333.1 L236 332.8 L238 332.5 L240 332.2 L242 331.9 L244 331.5 L246 331.2 L248 330.8 L250 330.5 L252 330.1 L254 329.7 L256 329.3 L258 328.9 L260 328.5 L262 328.1 L264 327.7 L266 327.2 L268 326.8 L270 326.4 L272 325.9 L274 325.4 L276 325 L278 324.5 L280 324 L282 323.5 L284 323 L286 322.5 L288 321.9 L290 321.4 L292 320.9 L294 320.3 L296 319.8 L298 319.2 L300 318.6 L302 318.1 L304 317.5 L306 316.9 L308 316.3 L310 315.7 L312 315 L314 314.4 L316 313.8 L318 313.1 L320 312.5 L322 311.8 L324 311.1 L326 310.5 L328 309.8 L330 309.1 L332 308.4 L334 307.7 L336 307 L338 306.2 L340 305.5 L342 304.8 L344 304 L346 303.3 L348 302.5 L350 301.7 L352 301 L354 300.2 L356 299.4 L358 298.6 L360 297.8 L362 296.9 L364 296.1 L366 295.3 L368 294.4 L370 293.6 L372 292.7 L374 291.9 L376 291 L378 290.1 L380 289.2 L382 288.4 L384 287.5 L386 286.5 L388 285.6 L390 284.7 L392 283.8 L394 282.8 L396 281.9 L398 280.9 L400 280 L402 279 L404 278 L406 277.1 L408 276.1 L410 275.1 L412 274.1 L414 273.1 L416 272 L418 271 L420 270 L422 268.9 L424 267.9 L426 266.8 L428 265.8 L430 264.7 L432 263.6 L434 262.6 L436 261.5 L438 260.4 L440 259.3 L442 258.2 L444 257 L446 255.9 L448 254.8 L450 253.6 L452 252.5 L454 251.3 L456 250.2 L458 249 L460 247.8 L462 246.7 L464 245.5 L466 244.3 L468 243.1 L470 241.9 L472 240.7 L474 239.4 L476 238.2 L478 237 L480 235.7 L482 234.5 L484 233.2 L486 232 L488 230.7 L490 229.4 L492 228.1 L494 226.9 L496 225.6 L498 224.3 L500 223 L502 221.6 L504 220.3 L506 219 L508 217.7 L510 216.3 L512 215 L514 213.6 L516 212.3 L518 210.9 L520 209.5 L522 208.1 L524 206.8 L526 205.4 L528 204 L530 202.6 L532 201.2 L534 199.7 L536 198.3 L538 196.9 L540 195.5 L542 194 L544 192.6 L546 191.1 L548 189.6 L550 188.2 L552 186.7 L554 185.2 L556 183.7 L558 182.3 L560 180.8 L562 179.3 L564 177.7 L566 176.2 L568 174.7 L570 173.2 L572 171.6 L574 170.1 L576 168.6 L578 167 L580 165.5 L582 163.9 L584 162.3 L586 160.7 L588 159.2 L590 157.6 L592 156 L594 154.4 L596 152.8 L598 151.2 L600 149.6 L602 147.9 L604 146.3 L606 144.7 L608 143 L610 141.4 L612 139.7 L614 138.1 L616 136.4 L618 134.8 L620 133.1 L622 131.4 L624 129.7 L626 128 L628 126.3 L630 124.6 L632 122.9 L634 121.2 L636 119.5 L638 117.8 L640 116.1 L642 114.3 L644 112.6 L646 110.8 L648 109.1 L650 107.3 L652 105.6 L654 103.8 L656 102 L658 100.3 L660 98.5 L662 96.7 L664 94.9 L666 93.1 L668 91.3 L670 89.5 L672 87.7 L674 85.9 L676 84 L678 82.2 L680 80.4 L682 78.5 L684 76.7" fill="none" stroke="#FF7F00" stroke-width="4.3" stroke-linejoin="round" stroke-linecap="round"/>
</g>
<ellipse cx="563.4" cy="589.3" rx="104.6" ry="144.9" fill="none" stroke="#000" stroke-width="1.6"/>
<path d="M511.5 485.9 L514.9 485.9 L514.9 499.6 L519.4 499.1 L513.2 518.1 L507 499.1 L511.5 499.6 Z" fill="#000"/>
<path d="M527.5 537.8 L530.9 537.8 L530.9 551.5 L535.4 551 L529.2 570 L523 551 L527.5 551.5 Z" fill="#000"/>
<path d="M552 583.5 L555.4 583.5 L555.4 598.2 L559.9 597.7 L553.7 616.7 L547.5 597.7 L552 598.2 Z" fill="#000"/>
<path d="M576.4 630.9 L579.8 630.9 L579.8 644.4 L584.3 643.9 L578.1 662.9 L571.9 643.9 L576.4 644.4 Z" fill="#000"/>
<path d="M599.1 680.2 L602.5 680.2 L602.5 694 L607 693.5 L600.8 712.5 L594.6 693.5 L599.1 694 Z" fill="#000"/>
<text x="107" y="1163.3" font-size="34" text-anchor="middle">0</text>
<text x="257" y="1163.3" font-size="34" text-anchor="middle">10</text>
<text x="407" y="1163.3" font-size="34" text-anchor="middle">20</text>
<text x="557" y="1163.3" font-size="34" text-anchor="middle">30</text>
<text x="707" y="1163.3" font-size="34" text-anchor="middle">40</text>
<text x="94" y="1134.2" font-size="34" text-anchor="end">0</text>
<text x="94" y="926" font-size="34" text-anchor="end">5</text>
<text x="94" y="717.8" font-size="34" text-anchor="end">10</text>
<text x="94" y="509.7" font-size="34" text-anchor="end">15</text>
<text x="94" y="301.5" font-size="34" text-anchor="end">20</text>
<text x="94" y="93.3" font-size="34" text-anchor="end">25</text>
<text x="372" y="1208.6" font-size="33"><tspan font-style="italic">T</tspan> (K)</text>
<text transform="translate(24.8,602.8) rotate(-90)" text-anchor="middle" font-size="33.5"><tspan font-family="'Liberation Serif', serif" font-style="italic">ρ</tspan> (<tspan font-family="'Liberation Serif', serif">μΩ</tspan> cm)</text>
<text x="134.8" y="237.8" font-size="34.3">Dose</text>
<text x="135.2" y="277.3" font-size="34.3">(C/cm<tspan font-size="24.5" dy="-14.5">2</tspan><tspan dy="14.5">)</tspan></text>
<text x="196.5" y="347.9" font-size="29.6" text-anchor="end" fill="#FF7F00">2.4</text>
<text x="196.5" y="458.9" font-size="29.6" text-anchor="end" fill="#007F00">1.7</text>
<text x="196.5" y="537.8" font-size="29.6" text-anchor="end" fill="#7F0000">1.4</text>
<text x="196.5" y="601.1" font-size="29.6" text-anchor="end" fill="#7F7F00">1.18</text>
<text x="196.5" y="667.6" font-size="29.6" text-anchor="end" fill="#FF00FF">0.95</text>
<text x="196.5" y="740.2" font-size="29.6" text-anchor="end" fill="#0000FF">0.72</text>
<text x="196.5" y="831.6" font-size="29.6" text-anchor="end" fill="#00FF00">0.47</text>
<text x="196.5" y="927.1" font-size="29.6" text-anchor="end" fill="#FF0000">0.23</text>
<text x="196.5" y="1031.6" font-size="29.6" text-anchor="end">0</text>
<text x="586.2" y="766" font-size="33.4">CDW</text>
<rect x="890.8" y="82" width="600.4" height="833.2" fill="none" stroke="#000" stroke-width="4.2"/>
<line x1="940.7" y1="915.2" x2="940.7" y2="905.7" stroke="#000" stroke-width="3.2"/>
<line x1="940.7" y1="82" x2="940.7" y2="91.5" stroke="#000" stroke-width="3.2"/>
<line x1="1040.7" y1="915.2" x2="1040.7" y2="905.7" stroke="#000" stroke-width="3.2"/>
<line x1="1040.7" y1="82" x2="1040.7" y2="91.5" stroke="#000" stroke-width="3.2"/>
<line x1="1140.7" y1="915.2" x2="1140.7" y2="905.7" stroke="#000" stroke-width="3.2"/>
<line x1="1140.7" y1="82" x2="1140.7" y2="91.5" stroke="#000" stroke-width="3.2"/>
<line x1="1240.6" y1="915.2" x2="1240.6" y2="905.7" stroke="#000" stroke-width="3.2"/>
<line x1="1240.6" y1="82" x2="1240.6" y2="91.5" stroke="#000" stroke-width="3.2"/>
<line x1="1340.6" y1="915.2" x2="1340.6" y2="905.7" stroke="#000" stroke-width="3.2"/>
<line x1="1340.6" y1="82" x2="1340.6" y2="91.5" stroke="#000" stroke-width="3.2"/>
<line x1="1440.6" y1="915.2" x2="1440.6" y2="905.7" stroke="#000" stroke-width="3.2"/>
<line x1="1440.6" y1="82" x2="1440.6" y2="91.5" stroke="#000" stroke-width="3.2"/>
<line x1="990.7" y1="915.2" x2="990.7" y2="910.7" stroke="#000" stroke-width="3.2"/>
<line x1="990.7" y1="82" x2="990.7" y2="86.5" stroke="#000" stroke-width="3.2"/>
<line x1="1090.7" y1="915.2" x2="1090.7" y2="910.7" stroke="#000" stroke-width="3.2"/>
<line x1="1090.7" y1="82" x2="1090.7" y2="86.5" stroke="#000" stroke-width="3.2"/>
<line x1="1190.7" y1="915.2" x2="1190.7" y2="910.7" stroke="#000" stroke-width="3.2"/>
<line x1="1190.7" y1="82" x2="1190.7" y2="86.5" stroke="#000" stroke-width="3.2"/>
<line x1="1290.6" y1="915.2" x2="1290.6" y2="910.7" stroke="#000" stroke-width="3.2"/>
<line x1="1290.6" y1="82" x2="1290.6" y2="86.5" stroke="#000" stroke-width="3.2"/>
<line x1="1390.6" y1="915.2" x2="1390.6" y2="910.7" stroke="#000" stroke-width="3.2"/>
<line x1="1390.6" y1="82" x2="1390.6" y2="86.5" stroke="#000" stroke-width="3.2"/>
<line x1="890.8" y1="725.9" x2="900.8" y2="725.9" stroke="#000" stroke-width="3.2"/>
<line x1="1491.2" y1="725.9" x2="1481.2" y2="725.9" stroke="#000" stroke-width="3.2"/>
<line x1="890.8" y1="536.4" x2="900.8" y2="536.4" stroke="#000" stroke-width="3.2"/>
<line x1="1491.2" y1="536.4" x2="1481.2" y2="536.4" stroke="#000" stroke-width="3.2"/>
<line x1="890.8" y1="346.9" x2="900.8" y2="346.9" stroke="#000" stroke-width="3.2"/>
<line x1="1491.2" y1="346.9" x2="1481.2" y2="346.9" stroke="#000" stroke-width="3.2"/>
<line x1="890.8" y1="157.4" x2="900.8" y2="157.4" stroke="#000" stroke-width="3.2"/>
<line x1="1491.2" y1="157.4" x2="1481.2" y2="157.4" stroke="#000" stroke-width="3.2"/>
<line x1="890.8" y1="820.6" x2="895.3" y2="820.6" stroke="#000" stroke-width="3.2"/>
<line x1="1491.2" y1="820.6" x2="1486.7" y2="820.6" stroke="#000" stroke-width="3.2"/>
<line x1="890.8" y1="631.1" x2="895.3" y2="631.1" stroke="#000" stroke-width="3.2"/>
<line x1="1491.2" y1="631.1" x2="1486.7" y2="631.1" stroke="#000" stroke-width="3.2"/>
<line x1="890.8" y1="441.6" x2="895.3" y2="441.6" stroke="#000" stroke-width="3.2"/>
<line x1="1491.2" y1="441.6" x2="1486.7" y2="441.6" stroke="#000" stroke-width="3.2"/>
<line x1="890.8" y1="252.1" x2="895.3" y2="252.1" stroke="#000" stroke-width="3.2"/>
<line x1="1491.2" y1="252.1" x2="1486.7" y2="252.1" stroke="#000" stroke-width="3.2"/>
<clipPath id="bclip"><rect x="890.8" y="80" width="600.4" height="837.3"/></clipPath>
<g clip-path="url(#bclip)">
<path d="M1236.6 914 L1242.9 914 L1247.1 907.8 L1252.3 890 L1257.6 875.3 L1263.9 854.3 L1275.4 834.4 L1297.4 825.5 L1316.3 824.2 L1389.6 824 L1398 822.5 L1491 821.8" fill="none" stroke="#000000" stroke-width="5" stroke-linejoin="round" stroke-linecap="round"/>
<path d="M1120 914 L1293.2 914 L1297.4 911 L1306.8 879.5 L1314.2 808.2 L1324.5 753.5 L1345.6 731.5 L1358.2 728.3 L1491 727.3" fill="none" stroke="#FF0000" stroke-width="5" stroke-linejoin="round" stroke-linecap="round"/>
<path d="M1300 914 L1333 914 L1339.3 909.9 L1345.6 900.5 L1351.9 829.2 L1358.5 763 L1364.5 690.6 L1375 661.3 L1384.4 645.5 L1391.7 641.3 L1491 640.7" fill="none" stroke="#00FF00" stroke-width="5" stroke-linejoin="round" stroke-linecap="round"/>
<path d="M1300 914 L1347.7 914 L1357.1 885.8 L1360.3 822.9 L1365.5 760 L1370.8 669.6 L1376 619.3 L1385.5 576.4 L1397 561.7 L1410.6 557.5 L1491 556.9" fill="none" stroke="#0000FF" stroke-width="5" stroke-linejoin="round" stroke-linecap="round"/>
<path d="M1120.9 914 L1307.9 914 L1316.3 907.8 L1326.8 871.1 L1334.1 760 L1338.3 690.6 L1342.5 638.2 L1345.6 590 L1349.8 554.3 L1355 517.7 L1364.5 498.8 L1377 491 L1393.8 488.9 L1491 489.4" fill="none" stroke="#FF00FF" stroke-width="5" stroke-linejoin="round" stroke-linecap="round"/>
<path d="M1066.9 914 L1118.8 914 L1128.1 907.4 L1138.5 857.6 L1141.5 763 L1144.7 688.4 L1149.9 615.7 L1157.2 532.7 L1163.1 469.2 L1165.9 455.5 L1175.5 437.6 L1196.8 430 L1491 427.9" fill="none" stroke="#7F7F00" stroke-width="5" stroke-linejoin="round" stroke-linecap="round"/>
<path d="M1030 914 L1066.9 914 L1077.3 907.4 L1088.7 863.8 L1096 760 L1099.1 678 L1103.2 605.3 L1107.4 532.7 L1117.5 465 L1127.4 403.3 L1137 380 L1156.3 373.1 L1190 372.8 L1491 370.3" fill="none" stroke="#7F0000" stroke-width="5" stroke-linejoin="round" stroke-linecap="round"/>
<path d="M946 914 L1029.5 914 L1039.9 912.6 L1050.3 901.2 L1058.6 878.4 L1063.8 811.9 L1067.9 760 L1071 667.6 L1074.1 605.3 L1077.3 538.9 L1085.5 465 L1095.8 403.3 L1102.7 364.9 L1111 331.9 L1119.2 311.3 L1130.2 305.8 L1150.8 301.7 L1190 300.7 L1491 299" fill="none" stroke="#007F00" stroke-width="5" stroke-linejoin="round" stroke-linecap="round"/>
<path d="M891 914 L938 914 L946.4 914 L966.2 896 L977.6 868 L982.8 812 L986.3 760 L988 709 L991 647 L994.2 584.6 L998.4 522.3 L1003.5 460 L1008 397.8 L1014.8 342.9 L1022.5 302.5 L1043.5 238.5 L1053.3 211.1 L1071.1 204.2 L1087.6 201.4 L1180 198.8 L1491 197.3" fill="none" stroke="#FF7F00" stroke-width="5" stroke-linejoin="round" stroke-linecap="round"/>
</g>
<text x="940.7" y="956.5" font-size="34" text-anchor="middle">6.6</text>
<text x="1040.7" y="956.5" font-size="34" text-anchor="middle">6.8</text>
<text x="1140.7" y="956.5" font-size="34" text-anchor="middle">7.0</text>
<text x="1240.6" y="956.5" font-size="34" text-anchor="middle">7.2</text>
<text x="1340.6" y="956.5" font-size="34" text-anchor="middle">7.4</text>
<text x="1440.6" y="956.5" font-size="34" text-anchor="middle">7.6</text>
<text x="875.5" y="926.4" font-size="34" text-anchor="end">0</text>
<text x="875.5" y="736.9" font-size="34" text-anchor="end">5</text>
<text x="875.5" y="547.4" font-size="34" text-anchor="end">10</text>
<text x="875.5" y="357.9" font-size="34" text-anchor="end">15</text>
<text x="875.5" y="168.4" font-size="34" text-anchor="end">20</text>
<text x="1155" y="1001.9" font-size="33"><tspan font-style="italic">T</tspan> (K)</text>
<text transform="translate(809.9,498.3) rotate(-90)" text-anchor="middle" font-size="33.5"><tspan font-family="'Liberation Serif', serif" font-style="italic">ρ</tspan> (<tspan font-family="'Liberation Serif', serif">μΩ</tspan> cm)</text>
<text x="968" y="150.6" font-size="34">SC</text>
<text x="1400.5" y="170" font-size="33.8" fill="#FF7F00">2.4</text>
<text x="1400.5" y="273.4" font-size="33.8" fill="#007F00">1.7</text>
<text x="1400.5" y="346.2" font-size="33.8" fill="#7F0000">1.4</text>
<text x="1400.5" y="409" font-size="33.8" fill="#7F7F00">1.18</text>
<text x="1400.5" y="471.5" font-size="33.8" fill="#FF00FF">0.95</text>
<text x="1400.5" y="540.7" font-size="33.8" fill="#0000FF">0.72</text>
<text x="1400.5" y="626.7" font-size="33.8" fill="#00FF00">0.47</text>
<text x="1400.5" y="713.7" font-size="33.8" fill="#FF0000">0.23</text>
<text x="1400.5" y="813.5" font-size="33.8">0</text>
<path d="M129.7 1890.7 L182.4 1727.3 L238.4 1523.5 L294.7 1426.7 L349.6 1356.5 L401.8 1334.4 L453.2 1318.9 L522.1 1330.9 L684.2 1325" fill="none" stroke="#FF0000" stroke-width="1" stroke-linejoin="round" stroke-linecap="round"/>
<path d="M129.7 1874.7 L145.7 1890.7 L129.7 1906.7 L113.7 1890.7 Z" fill="#FF0000"/>
<path d="M182.4 1711.3 L198.4 1727.3 L182.4 1743.3 L166.4 1727.3 Z" fill="#FF0000"/>
<path d="M238.4 1507.5 L254.4 1523.5 L238.4 1539.5 L222.4 1523.5 Z" fill="#FF0000"/>
<path d="M294.7 1410.7 L310.7 1426.7 L294.7 1442.7 L278.7 1426.7 Z" fill="#FF0000"/>
<path d="M349.6 1340.5 L365.6 1356.5 L349.6 1372.5 L333.6 1356.5 Z" fill="#FF0000"/>
<path d="M401.8 1318.4 L417.8 1334.4 L401.8 1350.4 L385.8 1334.4 Z" fill="#FF0000"/>
<path d="M453.2 1302.9 L469.2 1318.9 L453.2 1334.9 L437.2 1318.9 Z" fill="#FF0000"/>
<path d="M522.1 1314.9 L538.1 1330.9 L522.1 1346.9 L506.1 1330.9 Z" fill="#FF0000"/>
<path d="M684.2 1309 L700.2 1325 L684.2 1341 L668.2 1325 Z" fill="#FF0000"/>
<line x1="251.8" y1="1330.4" x2="707" y2="1329.6" stroke="#0000FF" stroke-width="4.3" stroke-dasharray="21.6 15.3"/>
<rect x="107.3" y="1270.8" width="599.5" height="639.2" fill="none" stroke="#000" stroke-width="4.2"/>
<line x1="129.9" y1="1910" x2="129.9" y2="1902.5" stroke="#000" stroke-width="3.2"/>
<line x1="129.9" y1="1270.8" x2="129.9" y2="1278.3" stroke="#000" stroke-width="3.2"/>
<line x1="361.1" y1="1910" x2="361.1" y2="1902.5" stroke="#000" stroke-width="3.2"/>
<line x1="361.1" y1="1270.8" x2="361.1" y2="1278.3" stroke="#000" stroke-width="3.2"/>
<line x1="592.3" y1="1910" x2="592.3" y2="1902.5" stroke="#000" stroke-width="3.2"/>
<line x1="592.3" y1="1270.8" x2="592.3" y2="1278.3" stroke="#000" stroke-width="3.2"/>
<line x1="245.5" y1="1910" x2="245.5" y2="1906.5" stroke="#000" stroke-width="3.2"/>
<line x1="245.5" y1="1270.8" x2="245.5" y2="1274.3" stroke="#000" stroke-width="3.2"/>
<line x1="476.7" y1="1910" x2="476.7" y2="1906.5" stroke="#000" stroke-width="3.2"/>
<line x1="476.7" y1="1270.8" x2="476.7" y2="1274.3" stroke="#000" stroke-width="3.2"/>
<line x1="107.3" y1="1890.6" x2="114.8" y2="1890.6" stroke="#000" stroke-width="3.2"/>
<line x1="706.8" y1="1890.6" x2="699.3" y2="1890.6" stroke="#000" stroke-width="3.2"/>
<line x1="107.3" y1="1702.8" x2="114.8" y2="1702.8" stroke="#000" stroke-width="3.2"/>
<line x1="706.8" y1="1702.8" x2="699.3" y2="1702.8" stroke="#000" stroke-width="3.2"/>
<line x1="107.3" y1="1515" x2="114.8" y2="1515" stroke="#000" stroke-width="3.2"/>
<line x1="706.8" y1="1515" x2="699.3" y2="1515" stroke="#000" stroke-width="3.2"/>
<line x1="107.3" y1="1327.2" x2="114.8" y2="1327.2" stroke="#000" stroke-width="3.2"/>
<line x1="706.8" y1="1327.2" x2="699.3" y2="1327.2" stroke="#000" stroke-width="3.2"/>
<line x1="107.3" y1="1796.7" x2="110.8" y2="1796.7" stroke="#000" stroke-width="3.2"/>
<line x1="706.8" y1="1796.7" x2="703.3" y2="1796.7" stroke="#000" stroke-width="3.2"/>
<line x1="107.3" y1="1608.9" x2="110.8" y2="1608.9" stroke="#000" stroke-width="3.2"/>
<line x1="706.8" y1="1608.9" x2="703.3" y2="1608.9" stroke="#000" stroke-width="3.2"/>
<line x1="107.3" y1="1421.1" x2="110.8" y2="1421.1" stroke="#000" stroke-width="3.2"/>
<line x1="706.8" y1="1421.1" x2="703.3" y2="1421.1" stroke="#000" stroke-width="3.2"/>
<text x="129.9" y="1948.1" font-size="34" text-anchor="middle">0</text>
<text x="361.1" y="1948.1" font-size="34" text-anchor="middle">1</text>
<text x="592.3" y="1948.1" font-size="34" text-anchor="middle">2</text>
<text x="92.4" y="1901.1" font-size="34" text-anchor="end">0</text>
<text x="92.4" y="1713.3" font-size="34" text-anchor="end">1</text>
<text x="92.4" y="1525.5" font-size="34" text-anchor="end">2</text>
<text x="92.4" y="1337.7" font-size="34" text-anchor="end">3</text>
<text x="305.8" y="2000.6" font-size="34">Dose (C/cm<tspan font-size="24.5" dy="-14.5">2</tspan><tspan dy="14.5">)</tspan></text>
<g transform="rotate(-90)">
<text x="-1795.5" y="30.7" font-size="33.5" font-family="'Liberation Serif', serif">Δ</text>
<text x="-1767" y="30.7" font-size="33.5" font-style="italic" font-family="'Liberation Serif', serif">ρ</text>
<text x="-1746" y="39.6" font-size="25">(</text>
<text x="-1737.5" y="39.6" font-size="25" font-style="italic">T</text>
<text x="-1722" y="39.6" font-size="25">=</text>
<text x="-1707.5" y="39.6" font-size="25" font-style="italic">T</text>
<text x="-1694.5" y="47.4" font-size="15">c</text>
<text x="-1684.5" y="39.6" font-size="25">)</text>
<text x="-1676" y="30.7" font-size="33.5">-</text>
<text x="-1664" y="30.7" font-size="33.5" font-family="'Liberation Serif', serif">Δ</text>
<text x="-1636" y="30.7" font-size="33.5" font-style="italic" font-family="'Liberation Serif', serif">ρ</text>
<text x="-1615.7" y="39.6" font-size="25">(</text>
<text x="-1605" y="39.6" font-size="25" font-style="italic">T</text>
<text x="-1590.5" y="39.6" font-size="25">=</text>
<text x="-1577" y="39.6" font-size="25" font-style="italic">T</text>
<text x="-1563.5" y="47.4" font-size="20">40 K</text>
<text x="-1522" y="39.6" font-size="25">)</text>
<text x="-1504.5" y="30.7" font-size="33.5">(<tspan font-family="'Liberation Serif', serif">μΩ</tspan> cm)</text>
</g>
<path d="M892.2 1278.3 L893.4 1236.8 L893.6 1264.7 L895.2 1274 L895.3 1245.3 L895.9 1259.8 L891.5 1257.6 L894.2 1254.9 L897.7 1271.1 L901.4 1237.4 L903.9 1250.2 L906.7 1272.4 L911.1 1246.4 L913.7 1222.6 L916.4 1259.1 L920.9 1252.7 L924.6 1257.3 L927.8 1259.2 L931.4 1268 L935.2 1246.5 L938.2 1256.1 L941 1241.5 L945.1 1251.5 L948.9 1242.1 L952.5 1240.6 L956.6 1256.6 L960.2 1244.3 L964.7 1255.8 L967.6 1242.4 L971.2 1246.6 L974.7 1230.9 L977.9 1235.3 L981.6 1218.8 L984.5 1218.9 L988.7 1251.3 L992.9 1244.2 L995.7 1241.5 L999.1 1240 L1002.1 1248.7 L1004.7 1221.8 L1009.1 1226.1 L1012.4 1225.2 L1015.2 1221 L1019.1 1246.2 L1021.9 1242 L1026.3 1237.6 L1029.2 1232.4 L1031.7 1200.5 L1034.6 1236.5 L1037.7 1225.3 L1041.2 1235.5 L1045.5 1225.8 L1049.4 1215.4 L1052.6 1214.8 L1055.1 1240.4 L1057.9 1210.1 L1062.4 1209.6 L1065.8 1211.6 L1069.7 1219.7 L1072.3 1239.6 L1074.8 1205.3 L1079.1 1241.8 L1082.7 1223.7 L1085.8 1201.3 L1089 1210.2 L1091.6 1219.6 L1094.4 1222.3 L1096.9 1223.8 L1101.1 1209.7 L1104.5 1200.5 L1107.3 1218.8 L1111.3 1220.6 L1114.1 1209.6 L1116.7 1210.4 L1120.4 1206.5 L1124.7 1218 L1127.2 1191 L1131.4 1204.9 L1134.2 1181.8 L1136.9 1206.6 L1139.4 1184 L1142.4 1189.7 L1146.4 1187.5 L1149.9 1198.4 L1154.1 1218 L1157 1204 L1160.2 1184.2 L1163.2 1183.5 L1167.7 1187.7 L1172.1 1210.2 L1175.2 1205.2 L1178.6 1181.3 L1181.7 1203.7 L1185.7 1202.7 L1188.3 1191.6 L1190.9 1196.5 L1194.2 1179.2 L1197.1 1185.9 L1201.4 1195.4 L1205.4 1179.9 L1209 1193.4 L1212.8 1192 L1216.7 1192.2 L1220.8 1176.3 L1225.2 1173 L1228 1192.4 L1231.7 1178.6 L1234.5 1191.7 L1237.9 1168 L1242 1181.2 L1246.3 1159.9 L1250.3 1152 L1253.4 1165 L1257.2 1176.9 L1260.6 1151.1 L1266 1179.8 L1269.3 1182.9 L1272.9 1153.5 L1276.7 1194.2 L1279.8 1148.1 L1284.9 1159.1 L1289.5 1149.4 L1292.8 1165.5 L1297 1169.6 L1300.2 1157.8 L1304.6 1142.2 L1308.2 1159.2 L1311.2 1142.9 L1314.4 1141.7 L1318.8 1147.1 L1323.3 1138.8 L1327.1 1154 L1331.6 1155.2 L1335.5 1174 L1338.7 1176 L1342.5 1162.9 L1346.4 1155.5 L1351.6 1152.6 L1354.9 1147.6 L1358 1143.3 L1362.4 1152.9 L1367.7 1144.5 L1373 1158.7 L1377.7 1136 L1380.8 1133.8 L1385.8 1129.7 L1390.4 1151.1 L1393.7 1133.5 L1397.8 1155.7 L1400.9 1152.9 L1405.9 1131.2 L1410.6 1122.8 L1415.6 1124.5 L1420.4 1145.4 L1424 1162.8 L1429 1129.6 L1432.5 1151.8 L1435.8 1125.8 L1439.8 1108.8 L1444 1145.6 L1447.6 1135.6 L1452.1 1121.3 L1456.5 1120.4 L1460.1 1134.5 L1464.6 1115.4 L1468.4 1134.4 L1473.2 1151.6 L1476.9 1116.6 L1481.8 1126.2 L1485.8 1128.5 L1490.2 1096.3" fill="none" stroke="#007F00" stroke-width="0.8" stroke-linejoin="round" stroke-opacity="0.8"/>
<path d="M890.4 1276.5h3.7v3.7h-3.7zM891.5 1235h3.7v3.7h-3.7zM891.8 1262.9h3.7v3.7h-3.7zM893.4 1272.2h3.7v3.7h-3.7zM893.4 1243.4h3.7v3.7h-3.7zM894.1 1257.9h3.7v3.7h-3.7zM889.6 1255.7h3.7v3.7h-3.7zM892.4 1253h3.7v3.7h-3.7zM895.9 1269.3h3.7v3.7h-3.7zM899.6 1235.6h3.7v3.7h-3.7zM902.1 1248.3h3.7v3.7h-3.7zM904.9 1270.6h3.7v3.7h-3.7zM909.3 1244.6h3.7v3.7h-3.7zM911.8 1220.8h3.7v3.7h-3.7zM914.6 1257.3h3.7v3.7h-3.7zM919 1250.8h3.7v3.7h-3.7zM922.8 1255.4h3.7v3.7h-3.7zM926 1257.4h3.7v3.7h-3.7zM929.5 1266.1h3.7v3.7h-3.7zM933.4 1244.7h3.7v3.7h-3.7zM936.4 1254.2h3.7v3.7h-3.7zM939.1 1239.7h3.7v3.7h-3.7zM943.2 1249.7h3.7v3.7h-3.7zM947.1 1240.2h3.7v3.7h-3.7zM950.6 1238.8h3.7v3.7h-3.7zM954.8 1254.8h3.7v3.7h-3.7zM958.4 1242.5h3.7v3.7h-3.7zM962.9 1253.9h3.7v3.7h-3.7zM965.8 1240.5h3.7v3.7h-3.7zM969.4 1244.7h3.7v3.7h-3.7zM972.9 1229.1h3.7v3.7h-3.7zM976 1233.5h3.7v3.7h-3.7zM979.7 1217h3.7v3.7h-3.7zM982.7 1217h3.7v3.7h-3.7zM986.8 1249.5h3.7v3.7h-3.7zM991.1 1242.4h3.7v3.7h-3.7zM993.8 1239.7h3.7v3.7h-3.7zM997.2 1238.1h3.7v3.7h-3.7zM1000.3 1246.8h3.7v3.7h-3.7zM1002.9 1220h3.7v3.7h-3.7zM1007.2 1224.2h3.7v3.7h-3.7zM1010.6 1223.3h3.7v3.7h-3.7zM1013.3 1219.2h3.7v3.7h-3.7zM1017.2 1244.4h3.7v3.7h-3.7zM1020.1 1240.2h3.7v3.7h-3.7zM1024.4 1235.7h3.7v3.7h-3.7zM1027.3 1230.6h3.7v3.7h-3.7zM1029.8 1198.6h3.7v3.7h-3.7zM1032.7 1234.7h3.7v3.7h-3.7zM1035.9 1223.4h3.7v3.7h-3.7zM1039.3 1233.6h3.7v3.7h-3.7zM1043.7 1223.9h3.7v3.7h-3.7zM1047.6 1213.5h3.7v3.7h-3.7zM1050.8 1213h3.7v3.7h-3.7zM1053.2 1238.6h3.7v3.7h-3.7zM1056 1208.3h3.7v3.7h-3.7zM1060.6 1207.8h3.7v3.7h-3.7zM1064 1209.7h3.7v3.7h-3.7zM1067.9 1217.8h3.7v3.7h-3.7zM1070.5 1237.7h3.7v3.7h-3.7zM1073 1203.4h3.7v3.7h-3.7zM1077.2 1239.9h3.7v3.7h-3.7zM1080.9 1221.9h3.7v3.7h-3.7zM1084 1199.4h3.7v3.7h-3.7zM1087.1 1208.4h3.7v3.7h-3.7zM1089.7 1217.7h3.7v3.7h-3.7zM1092.6 1220.4h3.7v3.7h-3.7zM1095.1 1222h3.7v3.7h-3.7zM1099.3 1207.8h3.7v3.7h-3.7zM1102.7 1198.6h3.7v3.7h-3.7zM1105.4 1217h3.7v3.7h-3.7zM1109.4 1218.7h3.7v3.7h-3.7zM1112.3 1207.7h3.7v3.7h-3.7zM1114.9 1208.5h3.7v3.7h-3.7zM1118.6 1204.7h3.7v3.7h-3.7zM1122.9 1216.1h3.7v3.7h-3.7zM1125.4 1189.1h3.7v3.7h-3.7zM1129.5 1203.1h3.7v3.7h-3.7zM1132.4 1180h3.7v3.7h-3.7zM1135 1204.7h3.7v3.7h-3.7zM1137.5 1182.2h3.7v3.7h-3.7zM1140.6 1187.9h3.7v3.7h-3.7zM1144.6 1185.6h3.7v3.7h-3.7zM1148 1196.6h3.7v3.7h-3.7zM1152.3 1216.1h3.7v3.7h-3.7zM1155.2 1202.1h3.7v3.7h-3.7zM1158.3 1182.4h3.7v3.7h-3.7zM1161.3 1181.6h3.7v3.7h-3.7zM1165.8 1185.8h3.7v3.7h-3.7zM1170.2 1208.4h3.7v3.7h-3.7zM1173.4 1203.3h3.7v3.7h-3.7zM1176.8 1179.5h3.7v3.7h-3.7zM1179.9 1201.9h3.7v3.7h-3.7zM1183.9 1200.8h3.7v3.7h-3.7zM1186.4 1189.8h3.7v3.7h-3.7zM1189 1194.6h3.7v3.7h-3.7zM1192.3 1177.3h3.7v3.7h-3.7zM1195.3 1184h3.7v3.7h-3.7zM1199.5 1193.6h3.7v3.7h-3.7zM1203.5 1178.1h3.7v3.7h-3.7zM1207.1 1191.6h3.7v3.7h-3.7zM1210.9 1190.1h3.7v3.7h-3.7zM1214.9 1190.3h3.7v3.7h-3.7zM1218.9 1174.5h3.7v3.7h-3.7zM1223.3 1171.1h3.7v3.7h-3.7zM1226.1 1190.6h3.7v3.7h-3.7zM1229.9 1176.7h3.7v3.7h-3.7zM1232.6 1189.8h3.7v3.7h-3.7zM1236 1166.2h3.7v3.7h-3.7zM1240.1 1179.4h3.7v3.7h-3.7zM1244.4 1158h3.7v3.7h-3.7zM1248.5 1150.1h3.7v3.7h-3.7zM1251.5 1163.1h3.7v3.7h-3.7zM1255.4 1175.1h3.7v3.7h-3.7zM1258.7 1149.3h3.7v3.7h-3.7zM1264.2 1177.9h3.7v3.7h-3.7zM1267.5 1181.1h3.7v3.7h-3.7zM1271 1151.6h3.7v3.7h-3.7zM1274.9 1192.4h3.7v3.7h-3.7zM1278 1146.2h3.7v3.7h-3.7zM1283.1 1157.2h3.7v3.7h-3.7zM1287.6 1147.5h3.7v3.7h-3.7zM1291 1163.6h3.7v3.7h-3.7zM1295.2 1167.8h3.7v3.7h-3.7zM1298.3 1155.9h3.7v3.7h-3.7zM1302.8 1140.3h3.7v3.7h-3.7zM1306.3 1157.4h3.7v3.7h-3.7zM1309.3 1141.1h3.7v3.7h-3.7zM1312.6 1139.9h3.7v3.7h-3.7zM1316.9 1145.3h3.7v3.7h-3.7zM1321.5 1137h3.7v3.7h-3.7zM1325.2 1152.1h3.7v3.7h-3.7zM1329.8 1153.4h3.7v3.7h-3.7zM1333.6 1172.1h3.7v3.7h-3.7zM1336.9 1174.1h3.7v3.7h-3.7zM1340.6 1161h3.7v3.7h-3.7zM1344.5 1153.7h3.7v3.7h-3.7zM1349.8 1150.7h3.7v3.7h-3.7zM1353 1145.8h3.7v3.7h-3.7zM1356.2 1141.4h3.7v3.7h-3.7zM1360.5 1151h3.7v3.7h-3.7zM1365.9 1142.6h3.7v3.7h-3.7zM1371.1 1156.8h3.7v3.7h-3.7zM1375.8 1134.1h3.7v3.7h-3.7zM1378.9 1132h3.7v3.7h-3.7zM1383.9 1127.8h3.7v3.7h-3.7zM1388.6 1149.3h3.7v3.7h-3.7zM1391.9 1131.6h3.7v3.7h-3.7zM1396 1153.9h3.7v3.7h-3.7zM1399 1151h3.7v3.7h-3.7zM1404 1129.3h3.7v3.7h-3.7zM1408.8 1121h3.7v3.7h-3.7zM1413.7 1122.7h3.7v3.7h-3.7zM1418.6 1143.5h3.7v3.7h-3.7zM1422.2 1160.9h3.7v3.7h-3.7zM1427.1 1127.7h3.7v3.7h-3.7zM1430.7 1150h3.7v3.7h-3.7zM1434 1123.9h3.7v3.7h-3.7zM1437.9 1106.9h3.7v3.7h-3.7zM1442.1 1143.7h3.7v3.7h-3.7zM1445.8 1133.7h3.7v3.7h-3.7zM1450.2 1119.4h3.7v3.7h-3.7zM1454.7 1118.6h3.7v3.7h-3.7zM1458.2 1132.6h3.7v3.7h-3.7zM1462.7 1113.5h3.7v3.7h-3.7zM1466.6 1132.6h3.7v3.7h-3.7zM1471.4 1149.8h3.7v3.7h-3.7zM1475 1114.8h3.7v3.7h-3.7zM1480 1124.4h3.7v3.7h-3.7zM1484 1126.6h3.7v3.7h-3.7zM1488.3 1094.4h3.7v3.7h-3.7z" fill="#007F00"/>
<path d="M890.7 1346.8 L891.3 1352.6 L892.2 1345.3 L895.3 1355 L891.5 1354.5 L894.6 1351.8 L899.1 1356.1 L902.1 1335.1 L905 1347 L908.2 1346.3 L911.3 1336.6 L915.2 1334.2 L918 1338 L922.4 1337.6 L926.8 1343.7 L929.3 1336.6 L933 1343.5 L935.8 1332.2 L938.9 1338.3 L942.3 1338 L945.8 1343.5 L949.3 1332 L953.8 1332.8 L956.9 1326.7 L959.8 1335.8 L963.8 1322.6 L968.4 1331.2 L972.9 1325.1 L977.3 1324.1 L980 1326.8 L984.5 1332.9 L988.4 1327.9 L992.8 1334.3 L996.2 1333.9 L999.2 1329 L1003.5 1332.9 L1007.4 1324.1 L1011.6 1315.8 L1014.6 1318.8 L1017.4 1313.1 L1021.6 1307.8 L1024.1 1320 L1028.7 1334.1 L1031.5 1310.1 L1035.3 1315.9 L1038.7 1321.7 L1042 1326.7 L1044.8 1318.3 L1049 1318.9 L1053.5 1319.1 L1057.6 1312.2 L1061.5 1323.7 L1065.5 1313 L1069.2 1307 L1072.9 1323.2 L1077.4 1310.1 L1080.5 1306.8 L1083.5 1305.6 L1088.1 1303.8 L1092.6 1301.4 L1096.2 1318.7 L1100.4 1310.1 L1104.6 1302.1 L1109.1 1289.7 L1111.8 1304.9 L1116.3 1308.1 L1119.9 1303.2 L1123.4 1301.9 L1127.4 1289.9 L1131.2 1291.8 L1134.7 1303.4 L1137.9 1286.9 L1142.4 1285.8 L1146.6 1290.1 L1149.4 1286.5 L1150 1288 L1154.6 1296 L1158.7 1281.1 L1164.9 1297.2 L1168.8 1286.8 L1171.8 1277.6 L1174.8 1295.6 L1178 1288 L1181.7 1285 L1185.1 1283.4 L1188.4 1276 L1191.8 1289.6 L1195.3 1279.5 L1204.7 1294.2 L1212 1285.2 L1221.7 1276 L1228.3 1284.8 L1235.5 1273.5 L1244.9 1265.9 L1251.8 1267.8 L1258.2 1260.9 L1261.9 1277.9 L1265.6 1261.1 L1271.5 1257.6 L1278.6 1252.8 L1288.1 1278.8 L1291.7 1248.5 L1312 1261.8 L1321.6 1241.6 L1325.1 1282.5 L1328.7 1241.6 L1338.4 1248.5 L1348.7 1267.3 L1351.7 1225 L1354.9 1236.7 L1358.4 1260.2 L1361.8 1242.7 L1365.3 1225 L1368.2 1237.4 L1371.7 1226.9 L1375.1 1270.1 L1378.8 1210.8 L1384.8 1242.3 L1391.9 1228.9 L1401.8 1200.7 L1408.2 1220.9 L1411.9 1239 L1428 1193.8 L1434.9 1252.8 L1438.3 1253.5 L1447.7 1180.2 L1451.5 1175.9 L1458.3 1232.6 L1468.1 1186.3 L1480.8 1253.5 L1482.5 1180.2 L1488.4 1253.5 L1491.5 1235" fill="none" stroke="#7F0000" stroke-width="0.8" stroke-linejoin="round" stroke-opacity="0.8"/>
<path d="M888.9 1344.9h3.7v3.7h-3.7zM889.4 1350.7h3.7v3.7h-3.7zM890.4 1343.5h3.7v3.7h-3.7zM893.5 1353.1h3.7v3.7h-3.7zM889.6 1352.7h3.7v3.7h-3.7zM892.7 1350h3.7v3.7h-3.7zM897.3 1354.2h3.7v3.7h-3.7zM900.2 1333.3h3.7v3.7h-3.7zM903.1 1345.1h3.7v3.7h-3.7zM906.4 1344.5h3.7v3.7h-3.7zM909.4 1334.7h3.7v3.7h-3.7zM913.4 1332.3h3.7v3.7h-3.7zM916.1 1336.2h3.7v3.7h-3.7zM920.6 1335.7h3.7v3.7h-3.7zM925 1341.9h3.7v3.7h-3.7zM927.5 1334.8h3.7v3.7h-3.7zM931.2 1341.7h3.7v3.7h-3.7zM933.9 1330.3h3.7v3.7h-3.7zM937 1336.5h3.7v3.7h-3.7zM940.4 1336.1h3.7v3.7h-3.7zM943.9 1341.7h3.7v3.7h-3.7zM947.5 1330.2h3.7v3.7h-3.7zM952 1330.9h3.7v3.7h-3.7zM955.1 1324.8h3.7v3.7h-3.7zM958 1334h3.7v3.7h-3.7zM962 1320.7h3.7v3.7h-3.7zM966.5 1329.3h3.7v3.7h-3.7zM971 1323.2h3.7v3.7h-3.7zM975.5 1322.3h3.7v3.7h-3.7zM978.1 1325h3.7v3.7h-3.7zM982.7 1331h3.7v3.7h-3.7zM986.6 1326h3.7v3.7h-3.7zM991 1332.5h3.7v3.7h-3.7zM994.4 1332h3.7v3.7h-3.7zM997.4 1327.2h3.7v3.7h-3.7zM1001.6 1331.1h3.7v3.7h-3.7zM1005.6 1322.2h3.7v3.7h-3.7zM1009.8 1314h3.7v3.7h-3.7zM1012.7 1317h3.7v3.7h-3.7zM1015.5 1311.2h3.7v3.7h-3.7zM1019.7 1306h3.7v3.7h-3.7zM1022.3 1318.2h3.7v3.7h-3.7zM1026.8 1332.3h3.7v3.7h-3.7zM1029.6 1308.3h3.7v3.7h-3.7zM1033.5 1314h3.7v3.7h-3.7zM1036.9 1319.8h3.7v3.7h-3.7zM1040.1 1324.9h3.7v3.7h-3.7zM1043 1316.4h3.7v3.7h-3.7zM1047.2 1317.1h3.7v3.7h-3.7zM1051.7 1317.2h3.7v3.7h-3.7zM1055.8 1310.3h3.7v3.7h-3.7zM1059.6 1321.9h3.7v3.7h-3.7zM1063.7 1311.1h3.7v3.7h-3.7zM1067.3 1305.1h3.7v3.7h-3.7zM1071.1 1321.3h3.7v3.7h-3.7zM1075.5 1308.2h3.7v3.7h-3.7zM1078.7 1304.9h3.7v3.7h-3.7zM1081.7 1303.8h3.7v3.7h-3.7zM1086.2 1302h3.7v3.7h-3.7zM1090.8 1299.6h3.7v3.7h-3.7zM1094.3 1316.9h3.7v3.7h-3.7zM1098.6 1308.3h3.7v3.7h-3.7zM1102.7 1300.3h3.7v3.7h-3.7zM1107.3 1287.8h3.7v3.7h-3.7zM1110 1303h3.7v3.7h-3.7zM1114.4 1306.3h3.7v3.7h-3.7zM1118 1301.3h3.7v3.7h-3.7zM1121.5 1300h3.7v3.7h-3.7zM1125.5 1288h3.7v3.7h-3.7zM1129.4 1289.9h3.7v3.7h-3.7zM1132.9 1301.6h3.7v3.7h-3.7zM1136 1285.1h3.7v3.7h-3.7zM1140.5 1283.9h3.7v3.7h-3.7zM1144.8 1288.3h3.7v3.7h-3.7zM1147.5 1284.6h3.7v3.7h-3.7zM1148.2 1286.2h3.7v3.7h-3.7zM1152.8 1294.2h3.7v3.7h-3.7zM1156.9 1279.2h3.7v3.7h-3.7zM1163.1 1295.4h3.7v3.7h-3.7zM1167 1285h3.7v3.7h-3.7zM1170 1275.8h3.7v3.7h-3.7zM1173 1293.8h3.7v3.7h-3.7zM1176.2 1286.2h3.7v3.7h-3.7zM1179.9 1283.2h3.7v3.7h-3.7zM1183.2 1281.6h3.7v3.7h-3.7zM1186.6 1274.2h3.7v3.7h-3.7zM1190 1287.8h3.7v3.7h-3.7zM1193.5 1277.7h3.7v3.7h-3.7zM1202.9 1292.4h3.7v3.7h-3.7zM1210.2 1283.4h3.7v3.7h-3.7zM1219.9 1274.2h3.7v3.7h-3.7zM1226.5 1283h3.7v3.7h-3.7zM1233.7 1271.7h3.7v3.7h-3.7zM1243.1 1264.1h3.7v3.7h-3.7zM1250 1266h3.7v3.7h-3.7zM1256.4 1259.1h3.7v3.7h-3.7zM1260.1 1276.1h3.7v3.7h-3.7zM1263.8 1259.2h3.7v3.7h-3.7zM1269.7 1255.8h3.7v3.7h-3.7zM1276.8 1251h3.7v3.7h-3.7zM1286.2 1277h3.7v3.7h-3.7zM1289.9 1246.7h3.7v3.7h-3.7zM1310.2 1260h3.7v3.7h-3.7zM1319.8 1239.8h3.7v3.7h-3.7zM1323.2 1280.7h3.7v3.7h-3.7zM1326.9 1239.8h3.7v3.7h-3.7zM1336.6 1246.7h3.7v3.7h-3.7zM1346.9 1265.5h3.7v3.7h-3.7zM1349.9 1223.2h3.7v3.7h-3.7zM1353.1 1234.9h3.7v3.7h-3.7zM1356.6 1258.4h3.7v3.7h-3.7zM1360 1240.9h3.7v3.7h-3.7zM1363.5 1223.2h3.7v3.7h-3.7zM1366.4 1235.6h3.7v3.7h-3.7zM1369.9 1225.1h3.7v3.7h-3.7zM1373.2 1268.2h3.7v3.7h-3.7zM1377 1209h3.7v3.7h-3.7zM1383 1240.5h3.7v3.7h-3.7zM1390.1 1227.1h3.7v3.7h-3.7zM1400 1198.9h3.7v3.7h-3.7zM1406.4 1219.1h3.7v3.7h-3.7zM1410.1 1237.2h3.7v3.7h-3.7zM1426.2 1192h3.7v3.7h-3.7zM1433.1 1251h3.7v3.7h-3.7zM1436.5 1251.7h3.7v3.7h-3.7zM1445.9 1178.4h3.7v3.7h-3.7zM1449.7 1174.1h3.7v3.7h-3.7zM1456.5 1230.8h3.7v3.7h-3.7zM1466.2 1184.5h3.7v3.7h-3.7zM1479 1251.7h3.7v3.7h-3.7zM1480.7 1178.4h3.7v3.7h-3.7zM1486.6 1251.7h3.7v3.7h-3.7zM1489.7 1233.2h3.7v3.7h-3.7z" fill="#7F0000"/>
<path d="M890.7 1438.8 L891.8 1438.9 L893.3 1440.5 L894.3 1427.6 L891.5 1440.5 L895.9 1436.6 L900.3 1436.1 L904.5 1438.2 L907.6 1434.4 L910.3 1436.6 L914.9 1441.4 L918.7 1428.9 L921.2 1434.7 L925.7 1446.9 L930.4 1421.5 L933.5 1418.9 L937.8 1418.3 L940.5 1422.7 L943.9 1427.5 L948.2 1424.5 L951.6 1422.5 L955.3 1417.3 L958 1418 L962.3 1417.6 L965.9 1417.4 L969 1420.3 L973.2 1416.4 L977.8 1417.7 L981.5 1413.6 L985.6 1414.6 L990.3 1414.4 L992.9 1414.4 L996.7 1416.2 L1001.3 1413 L1004.1 1413.8 L1007.1 1413.1 L1010.8 1412.8 L1014.8 1412.7 L1018.6 1409.6 L1022.3 1411.8 L1024.9 1409 L1029 1408.1 L1032.2 1407.2 L1034.9 1411.2 L1039.5 1405.1 L1043.4 1405.2 L1046.9 1404.1 L1051 1401.8 L1054.6 1400.2 L1057.4 1404.3 L1061.2 1401.5 L1065.3 1396.8 L1069.5 1399.9 L1073.2 1403.7 L1077.7 1399.7 L1082.3 1397 L1086.7 1395.5 L1090 1397.5 L1093.1 1394 L1096.8 1391.4 L1100.7 1392.9 L1103.6 1396.4 L1107.3 1394.9 L1110.8 1390.8 L1113.3 1393.3 L1116.7 1392.1 L1120.1 1391.7 L1124.7 1386 L1127.3 1390 L1131.9 1388.1 L1136.3 1390.4 L1140.2 1391.7 L1143.1 1383.9 L1147.3 1382.4 L1150.2 1380.6 L1153.4 1383.9 L1157.4 1385.4 L1160.8 1381.2 L1164.3 1381.2 L1167.5 1380.9 L1170.1 1377.5 L1173.4 1374.5 L1177.7 1379.5 L1182 1378.2 L1184.7 1374.4 L1188.4 1370.1 L1191.7 1377.9 L1195.1 1370 L1199.7 1367.5 L1204 1364.6 L1210.5 1364.5 L1217.1 1361.5 L1225.2 1358.2 L1231.2 1359.7 L1238.8 1358 L1246.2 1356.3 L1253.6 1358.1 L1259.9 1357.8 L1267.2 1353.6 L1275 1352.7 L1280.7 1354.3 L1288.2 1349.9 L1291.4 1347.5 L1295.4 1348.9 L1311.8 1347.5 L1317.9 1341.8 L1324.7 1341.8 L1328.7 1337.6 L1332.1 1337.6 L1338.3 1337.6 L1345.1 1350.2 L1347.8 1329.1 L1351.9 1337.6 L1368.2 1326.2 L1384.8 1329.1 L1394.7 1320.7 L1408.3 1329.8 L1414.8 1311.1 L1428 1306.4 L1438.2 1320.7 L1440.9 1318.9 L1467.8 1313 L1471.9 1304 L1476 1316.9 L1486.5 1297.2 L1492.6 1289" fill="none" stroke="#7F7F00" stroke-width="0.8" stroke-linejoin="round" stroke-opacity="0.8"/>
<path d="M888.8 1437h3.7v3.7h-3.7zM889.9 1437.1h3.7v3.7h-3.7zM891.4 1438.7h3.7v3.7h-3.7zM892.5 1425.7h3.7v3.7h-3.7zM889.6 1438.7h3.7v3.7h-3.7zM894 1434.7h3.7v3.7h-3.7zM898.4 1434.2h3.7v3.7h-3.7zM902.7 1436.3h3.7v3.7h-3.7zM905.8 1432.6h3.7v3.7h-3.7zM908.4 1434.8h3.7v3.7h-3.7zM913 1439.5h3.7v3.7h-3.7zM916.9 1427.1h3.7v3.7h-3.7zM919.4 1432.9h3.7v3.7h-3.7zM923.9 1445.1h3.7v3.7h-3.7zM928.5 1419.6h3.7v3.7h-3.7zM931.7 1417.1h3.7v3.7h-3.7zM935.9 1416.5h3.7v3.7h-3.7zM938.6 1420.9h3.7v3.7h-3.7zM942.1 1425.7h3.7v3.7h-3.7zM946.4 1422.6h3.7v3.7h-3.7zM949.8 1420.6h3.7v3.7h-3.7zM953.4 1415.5h3.7v3.7h-3.7zM956.2 1416.2h3.7v3.7h-3.7zM960.5 1415.7h3.7v3.7h-3.7zM964.1 1415.6h3.7v3.7h-3.7zM967.1 1418.4h3.7v3.7h-3.7zM971.3 1414.6h3.7v3.7h-3.7zM976 1415.9h3.7v3.7h-3.7zM979.6 1411.8h3.7v3.7h-3.7zM983.8 1412.7h3.7v3.7h-3.7zM988.4 1412.6h3.7v3.7h-3.7zM991 1412.5h3.7v3.7h-3.7zM994.8 1414.4h3.7v3.7h-3.7zM999.4 1411.2h3.7v3.7h-3.7zM1002.2 1412h3.7v3.7h-3.7zM1005.2 1411.2h3.7v3.7h-3.7zM1008.9 1410.9h3.7v3.7h-3.7zM1013 1410.9h3.7v3.7h-3.7zM1016.7 1407.8h3.7v3.7h-3.7zM1020.4 1410h3.7v3.7h-3.7zM1023 1407.1h3.7v3.7h-3.7zM1027.2 1406.3h3.7v3.7h-3.7zM1030.4 1405.4h3.7v3.7h-3.7zM1033.1 1409.4h3.7v3.7h-3.7zM1037.6 1403.2h3.7v3.7h-3.7zM1041.6 1403.4h3.7v3.7h-3.7zM1045.1 1402.3h3.7v3.7h-3.7zM1049.2 1400h3.7v3.7h-3.7zM1052.7 1398.3h3.7v3.7h-3.7zM1055.5 1402.4h3.7v3.7h-3.7zM1059.4 1399.6h3.7v3.7h-3.7zM1063.5 1395h3.7v3.7h-3.7zM1067.6 1398h3.7v3.7h-3.7zM1071.3 1401.9h3.7v3.7h-3.7zM1075.9 1397.8h3.7v3.7h-3.7zM1080.4 1395.2h3.7v3.7h-3.7zM1084.8 1393.6h3.7v3.7h-3.7zM1088.2 1395.7h3.7v3.7h-3.7zM1091.3 1392.2h3.7v3.7h-3.7zM1094.9 1389.5h3.7v3.7h-3.7zM1098.8 1391.1h3.7v3.7h-3.7zM1101.7 1394.6h3.7v3.7h-3.7zM1105.4 1393h3.7v3.7h-3.7zM1108.9 1389h3.7v3.7h-3.7zM1111.4 1391.5h3.7v3.7h-3.7zM1114.9 1390.2h3.7v3.7h-3.7zM1118.2 1389.8h3.7v3.7h-3.7zM1122.8 1384.2h3.7v3.7h-3.7zM1125.5 1388.2h3.7v3.7h-3.7zM1130 1386.3h3.7v3.7h-3.7zM1134.5 1388.5h3.7v3.7h-3.7zM1138.3 1389.9h3.7v3.7h-3.7zM1141.2 1382h3.7v3.7h-3.7zM1145.5 1380.6h3.7v3.7h-3.7zM1148.3 1378.8h3.7v3.7h-3.7zM1151.5 1382h3.7v3.7h-3.7zM1155.5 1383.6h3.7v3.7h-3.7zM1158.9 1379.4h3.7v3.7h-3.7zM1162.5 1379.4h3.7v3.7h-3.7zM1165.6 1379.1h3.7v3.7h-3.7zM1168.2 1375.6h3.7v3.7h-3.7zM1171.5 1372.6h3.7v3.7h-3.7zM1175.8 1377.6h3.7v3.7h-3.7zM1180.1 1376.4h3.7v3.7h-3.7zM1182.8 1372.5h3.7v3.7h-3.7zM1186.6 1368.2h3.7v3.7h-3.7zM1189.8 1376.1h3.7v3.7h-3.7zM1193.2 1368.1h3.7v3.7h-3.7zM1197.9 1365.6h3.7v3.7h-3.7zM1202.1 1362.7h3.7v3.7h-3.7zM1208.7 1362.7h3.7v3.7h-3.7zM1215.2 1359.6h3.7v3.7h-3.7zM1223.3 1356.4h3.7v3.7h-3.7zM1229.3 1357.8h3.7v3.7h-3.7zM1236.9 1356.2h3.7v3.7h-3.7zM1244.3 1354.4h3.7v3.7h-3.7zM1251.8 1356.3h3.7v3.7h-3.7zM1258.1 1355.9h3.7v3.7h-3.7zM1265.3 1351.8h3.7v3.7h-3.7zM1273.1 1350.9h3.7v3.7h-3.7zM1278.8 1352.4h3.7v3.7h-3.7zM1286.4 1348h3.7v3.7h-3.7zM1289.6 1345.7h3.7v3.7h-3.7zM1293.6 1347.1h3.7v3.7h-3.7zM1310 1345.7h3.7v3.7h-3.7zM1316.1 1340h3.7v3.7h-3.7zM1322.9 1340h3.7v3.7h-3.7zM1326.9 1335.8h3.7v3.7h-3.7zM1330.2 1335.8h3.7v3.7h-3.7zM1336.5 1335.8h3.7v3.7h-3.7zM1343.2 1348.4h3.7v3.7h-3.7zM1346 1327.2h3.7v3.7h-3.7zM1350.1 1335.8h3.7v3.7h-3.7zM1366.4 1324.4h3.7v3.7h-3.7zM1383 1327.2h3.7v3.7h-3.7zM1392.9 1318.9h3.7v3.7h-3.7zM1406.5 1328h3.7v3.7h-3.7zM1413 1309.2h3.7v3.7h-3.7zM1426.2 1304.6h3.7v3.7h-3.7zM1436.4 1318.9h3.7v3.7h-3.7zM1439.1 1317.1h3.7v3.7h-3.7zM1466 1311.2h3.7v3.7h-3.7zM1470.1 1302.2h3.7v3.7h-3.7zM1474.2 1315.1h3.7v3.7h-3.7zM1484.7 1295.4h3.7v3.7h-3.7zM1490.8 1287.2h3.7v3.7h-3.7z" fill="#7F7F00"/>
<path d="M893.4 1515.5 L895.3 1512.3 L895.6 1521 L895.6 1511.8 L891.5 1508.2 L895.8 1521.5 L899.1 1521.9 L903.2 1515.6 L907.5 1520.9 L911.4 1527.4 L915.1 1510.7 L919.3 1508.6 L923.4 1518.7 L926.9 1505.5 L930.7 1503.9 L934.8 1506.3 L937.4 1504.1 L941.4 1503.9 L945.5 1505.4 L948.9 1504.1 L952.5 1501.2 L955.5 1500.3 L959.4 1496.8 L964 1498.8 L967.2 1497.9 L970.7 1498.1 L975.2 1498 L978.9 1495.7 L982.3 1497.2 L986.3 1494.1 L988.9 1495.1 L991.7 1491.9 L996.1 1495.2 L999 1491 L1001.6 1494.5 L1006.1 1493.2 L1010.2 1491.2 L1014.8 1492.3 L1019 1490.8 L1023.5 1492.8 L1026.8 1490.8 L1030.9 1493.6 L1033.8 1492.6 L1038.1 1488.7 L1042.2 1487.8 L1045.1 1492.3 L1048.1 1490.5 L1050.9 1489.8 L1055.2 1491.1 L1059.2 1485.6 L1062.3 1488.2 L1066.3 1485.9 L1070.3 1485.8 L1074.3 1487.4 L1078.9 1485.5 L1083.3 1485.9 L1086.7 1483.6 L1089.3 1487 L1092.4 1484.2 L1095 1482.7 L1099.3 1484.7 L1103.5 1486.2 L1106.5 1482 L1111 1482.7 L1114.3 1481.9 L1117.8 1482.9 L1121.6 1481.5 L1126.2 1479 L1130.7 1479.4 L1133.5 1480.9 L1138 1481 L1140.9 1478.2 L1145.2 1479 L1149.2 1478.9 L1152 1479.5 L1154.6 1475.4 L1159.2 1474.4 L1161.7 1477 L1164.5 1476 L1169.2 1474.5 L1173.2 1471.2 L1176.9 1472.5 L1180.4 1469.4 L1184.2 1470.1 L1187.7 1466.3 L1190.4 1465.9 L1193.4 1465.8 L1196.6 1466.4 L1200.2 1467.4 L1203.5 1464.2 L1207.6 1465 L1211.9 1463 L1216.1 1465 L1219.6 1458.3 L1222.9 1457.2 L1225.5 1457.3 L1228.8 1457.4 L1233 1454.7 L1236.3 1459 L1239.4 1457 L1242.3 1457.2 L1246.2 1453 L1249.8 1453.6 L1252.4 1453.3 L1255.5 1451.8 L1258.1 1452.9 L1261 1453.2 L1264.1 1447.7 L1266.7 1446.7 L1271.4 1447.9 L1275.3 1448.1 L1278.1 1443.9 L1281.7 1446 L1285.1 1442.8 L1288 1440.5 L1291.5 1442.6 L1295.2 1440.3 L1297.9 1438.6 L1302.5 1436.9 L1306.1 1439.7 L1308.8 1441.3 L1312.8 1434.1 L1317.4 1435.1 L1319.9 1435.7 L1323.9 1433.3 L1328.2 1430.7 L1331.7 1428 L1334.4 1433.1 L1338.6 1430.1 L1341.8 1428.3 L1345 1431.8 L1349.2 1428 L1351.7 1427.8 L1354.7 1428.3 L1359.2 1423.3 L1362.1 1424 L1364.8 1424.2 L1367.5 1420.6 L1371.1 1419.2 L1374.5 1416.1 L1378.1 1414.5 L1382.6 1415.9 L1385.6 1412.3 L1389.8 1412 L1393.6 1410.1 L1397.4 1413.2 L1400 1410.7 L1402.6 1409.6 L1405.5 1410.6 L1409 1410.5 L1412.3 1407.6 L1415.4 1410.6 L1419.8 1409.2 L1423.6 1407.2 L1426.8 1408.9 L1430.7 1408.3 L1435.1 1411.2 L1438 1407.3 L1441.4 1408.2 L1444.4 1406.7 L1448 1406.1 L1450.8 1405 L1454 1404.1 L1458.7 1404 L1463.2 1402.1 L1465.8 1401 L1469 1398.5 L1473.3 1397 L1477.6 1391.9 L1480.8 1388.7 L1484.8 1384.4 L1489 1384.4" fill="none" stroke="#FF00FF" stroke-width="0.8" stroke-linejoin="round" stroke-opacity="0.8"/>
<path d="M891.6 1513.6h3.7v3.7h-3.7zM893.4 1510.5h3.7v3.7h-3.7zM893.7 1519.2h3.7v3.7h-3.7zM893.8 1509.9h3.7v3.7h-3.7zM889.6 1506.3h3.7v3.7h-3.7zM894 1519.7h3.7v3.7h-3.7zM897.3 1520.1h3.7v3.7h-3.7zM901.3 1513.8h3.7v3.7h-3.7zM905.7 1519.1h3.7v3.7h-3.7zM909.6 1525.6h3.7v3.7h-3.7zM913.3 1508.9h3.7v3.7h-3.7zM917.5 1506.8h3.7v3.7h-3.7zM921.5 1516.9h3.7v3.7h-3.7zM925.1 1503.6h3.7v3.7h-3.7zM928.8 1502h3.7v3.7h-3.7zM932.9 1504.5h3.7v3.7h-3.7zM935.6 1502.3h3.7v3.7h-3.7zM939.5 1502h3.7v3.7h-3.7zM943.6 1503.5h3.7v3.7h-3.7zM947 1502.2h3.7v3.7h-3.7zM950.6 1499.4h3.7v3.7h-3.7zM953.6 1498.5h3.7v3.7h-3.7zM957.6 1494.9h3.7v3.7h-3.7zM962.2 1497h3.7v3.7h-3.7zM965.3 1496.1h3.7v3.7h-3.7zM968.9 1496.2h3.7v3.7h-3.7zM973.3 1496.1h3.7v3.7h-3.7zM977 1493.9h3.7v3.7h-3.7zM980.5 1495.4h3.7v3.7h-3.7zM984.4 1492.3h3.7v3.7h-3.7zM987 1493.3h3.7v3.7h-3.7zM989.9 1490h3.7v3.7h-3.7zM994.3 1493.4h3.7v3.7h-3.7zM997.1 1489.2h3.7v3.7h-3.7zM999.7 1492.6h3.7v3.7h-3.7zM1004.2 1491.3h3.7v3.7h-3.7zM1008.4 1489.3h3.7v3.7h-3.7zM1013 1490.5h3.7v3.7h-3.7zM1017.2 1489h3.7v3.7h-3.7zM1021.7 1490.9h3.7v3.7h-3.7zM1024.9 1489h3.7v3.7h-3.7zM1029.1 1491.7h3.7v3.7h-3.7zM1032 1490.8h3.7v3.7h-3.7zM1036.3 1486.9h3.7v3.7h-3.7zM1040.4 1485.9h3.7v3.7h-3.7zM1043.3 1490.4h3.7v3.7h-3.7zM1046.2 1488.7h3.7v3.7h-3.7zM1049.1 1488h3.7v3.7h-3.7zM1053.4 1489.3h3.7v3.7h-3.7zM1057.3 1483.7h3.7v3.7h-3.7zM1060.5 1486.4h3.7v3.7h-3.7zM1064.4 1484h3.7v3.7h-3.7zM1068.4 1483.9h3.7v3.7h-3.7zM1072.4 1485.6h3.7v3.7h-3.7zM1077.1 1483.7h3.7v3.7h-3.7zM1081.4 1484.1h3.7v3.7h-3.7zM1084.9 1481.7h3.7v3.7h-3.7zM1087.5 1485.1h3.7v3.7h-3.7zM1090.5 1482.3h3.7v3.7h-3.7zM1093.2 1480.8h3.7v3.7h-3.7zM1097.4 1482.8h3.7v3.7h-3.7zM1101.6 1484.3h3.7v3.7h-3.7zM1104.6 1480.1h3.7v3.7h-3.7zM1109.2 1480.9h3.7v3.7h-3.7zM1112.4 1480.1h3.7v3.7h-3.7zM1115.9 1481.1h3.7v3.7h-3.7zM1119.7 1479.7h3.7v3.7h-3.7zM1124.4 1477.1h3.7v3.7h-3.7zM1128.8 1477.5h3.7v3.7h-3.7zM1131.7 1479.1h3.7v3.7h-3.7zM1136.1 1479.1h3.7v3.7h-3.7zM1139.1 1476.4h3.7v3.7h-3.7zM1143.3 1477.2h3.7v3.7h-3.7zM1147.3 1477.1h3.7v3.7h-3.7zM1150.2 1477.7h3.7v3.7h-3.7zM1152.8 1473.6h3.7v3.7h-3.7zM1157.3 1472.5h3.7v3.7h-3.7zM1159.9 1475.1h3.7v3.7h-3.7zM1162.7 1474.1h3.7v3.7h-3.7zM1167.3 1472.6h3.7v3.7h-3.7zM1171.3 1469.3h3.7v3.7h-3.7zM1175.1 1470.6h3.7v3.7h-3.7zM1178.6 1467.6h3.7v3.7h-3.7zM1182.3 1468.3h3.7v3.7h-3.7zM1185.9 1464.5h3.7v3.7h-3.7zM1188.5 1464.1h3.7v3.7h-3.7zM1191.5 1463.9h3.7v3.7h-3.7zM1194.7 1464.6h3.7v3.7h-3.7zM1198.3 1465.6h3.7v3.7h-3.7zM1201.7 1462.3h3.7v3.7h-3.7zM1205.8 1463.1h3.7v3.7h-3.7zM1210 1461.2h3.7v3.7h-3.7zM1214.2 1463.1h3.7v3.7h-3.7zM1217.7 1456.4h3.7v3.7h-3.7zM1221.1 1455.3h3.7v3.7h-3.7zM1223.7 1455.5h3.7v3.7h-3.7zM1226.9 1455.6h3.7v3.7h-3.7zM1231.2 1452.9h3.7v3.7h-3.7zM1234.4 1457.1h3.7v3.7h-3.7zM1237.6 1455.2h3.7v3.7h-3.7zM1240.5 1455.4h3.7v3.7h-3.7zM1244.3 1451.1h3.7v3.7h-3.7zM1247.9 1451.8h3.7v3.7h-3.7zM1250.6 1451.5h3.7v3.7h-3.7zM1253.6 1449.9h3.7v3.7h-3.7zM1256.3 1451h3.7v3.7h-3.7zM1259.1 1451.4h3.7v3.7h-3.7zM1262.2 1445.9h3.7v3.7h-3.7zM1264.9 1444.8h3.7v3.7h-3.7zM1269.6 1446h3.7v3.7h-3.7zM1273.4 1446.3h3.7v3.7h-3.7zM1276.2 1442.1h3.7v3.7h-3.7zM1279.9 1444.2h3.7v3.7h-3.7zM1283.3 1440.9h3.7v3.7h-3.7zM1286.2 1438.7h3.7v3.7h-3.7zM1289.6 1440.7h3.7v3.7h-3.7zM1293.3 1438.5h3.7v3.7h-3.7zM1296.1 1436.8h3.7v3.7h-3.7zM1300.7 1435h3.7v3.7h-3.7zM1304.3 1437.9h3.7v3.7h-3.7zM1306.9 1439.4h3.7v3.7h-3.7zM1310.9 1432.2h3.7v3.7h-3.7zM1315.5 1433.3h3.7v3.7h-3.7zM1318.1 1433.8h3.7v3.7h-3.7zM1322.1 1431.5h3.7v3.7h-3.7zM1326.4 1428.8h3.7v3.7h-3.7zM1329.9 1426.2h3.7v3.7h-3.7zM1332.6 1431.2h3.7v3.7h-3.7zM1336.7 1428.2h3.7v3.7h-3.7zM1340 1426.4h3.7v3.7h-3.7zM1343.1 1429.9h3.7v3.7h-3.7zM1347.3 1426.2h3.7v3.7h-3.7zM1349.8 1425.9h3.7v3.7h-3.7zM1352.9 1426.4h3.7v3.7h-3.7zM1357.4 1421.4h3.7v3.7h-3.7zM1360.2 1422.2h3.7v3.7h-3.7zM1362.9 1422.4h3.7v3.7h-3.7zM1365.6 1418.8h3.7v3.7h-3.7zM1369.3 1417.3h3.7v3.7h-3.7zM1372.6 1414.3h3.7v3.7h-3.7zM1376.2 1412.6h3.7v3.7h-3.7zM1380.7 1414.1h3.7v3.7h-3.7zM1383.8 1410.4h3.7v3.7h-3.7zM1387.9 1410.1h3.7v3.7h-3.7zM1391.7 1408.2h3.7v3.7h-3.7zM1395.6 1411.4h3.7v3.7h-3.7zM1398.2 1408.8h3.7v3.7h-3.7zM1400.8 1407.7h3.7v3.7h-3.7zM1403.6 1408.7h3.7v3.7h-3.7zM1407.1 1408.6h3.7v3.7h-3.7zM1410.4 1405.7h3.7v3.7h-3.7zM1413.6 1408.7h3.7v3.7h-3.7zM1418 1407.4h3.7v3.7h-3.7zM1421.7 1405.4h3.7v3.7h-3.7zM1425 1407h3.7v3.7h-3.7zM1428.8 1406.4h3.7v3.7h-3.7zM1433.2 1409.3h3.7v3.7h-3.7zM1436.1 1405.4h3.7v3.7h-3.7zM1439.5 1406.3h3.7v3.7h-3.7zM1442.5 1404.9h3.7v3.7h-3.7zM1446.1 1404.3h3.7v3.7h-3.7zM1448.9 1403.2h3.7v3.7h-3.7zM1452.2 1402.2h3.7v3.7h-3.7zM1456.9 1402.2h3.7v3.7h-3.7zM1461.4 1400.3h3.7v3.7h-3.7zM1463.9 1399.1h3.7v3.7h-3.7zM1467.2 1396.6h3.7v3.7h-3.7zM1471.5 1395.1h3.7v3.7h-3.7zM1475.8 1390.1h3.7v3.7h-3.7zM1479 1386.9h3.7v3.7h-3.7zM1482.9 1382.5h3.7v3.7h-3.7zM1487.1 1382.6h3.7v3.7h-3.7z" fill="#FF00FF"/>
<path d="M891.5 1577.7 L895.5 1581.1 L899.8 1582 L903.1 1583.3 L905.7 1579.8 L909.4 1578.3 L912.3 1579.3 L916.3 1575.8 L919.6 1576.1 L923.1 1571.6 L927.7 1572.5 L932 1573.1 L936.3 1571.9 L940 1572.2 L944.6 1570.9 L947.1 1574.1 L951.6 1570.1 L954.9 1569.8 L957.9 1566.9 L961.6 1571.2 L966.2 1565 L969.4 1564.2 L973.9 1564.8 L977.4 1564.3 L982 1564.8 L986.2 1563.6 L990.4 1564.5 L993.7 1564.8 L997.5 1565.2 L1000.6 1560.7 L1004.8 1561.3 L1007.9 1560 L1011.9 1557.8 L1014.6 1560.7 L1017.6 1559.8 L1020.9 1561.6 L1023.8 1560 L1026.9 1560.7 L1029.8 1560 L1032.4 1562.1 L1035.7 1560.2 L1039.2 1559.2 L1042.6 1560.9 L1047.1 1559.5 L1049.8 1560.1 L1053.7 1561 L1057 1558.1 L1059.5 1561.5 L1063.7 1559.3 L1067.2 1559.7 L1071.8 1555.8 L1076 1556.3 L1080.4 1557.1 L1084.1 1559.1 L1087.4 1558.2 L1091.7 1556 L1095.2 1560.6 L1099.6 1560 L1104 1560.1 L1107.3 1559.8 L1111.4 1558.4 L1115.7 1559.8 L1120.4 1563.1 L1123.9 1561.1 L1126.8 1561.4 L1129.9 1559 L1133.3 1558.6 L1135.9 1561.8 L1139.9 1561.3 L1142.6 1561.1 L1146.1 1563.8 L1150.8 1562.4 L1154.2 1560.7 L1157.2 1560.8 L1160.6 1558.1 L1163.6 1560 L1166.6 1559.7 L1169.7 1559 L1172.9 1561.2 L1176.4 1560.2 L1179.5 1557.4 L1183.4 1560.8 L1187.8 1558.7 L1190.3 1558.5 L1193.9 1557.8 L1197.7 1558.7 L1201.3 1552.8 L1205.2 1555.8 L1208.2 1556.9 L1212.7 1555.6 L1217.4 1554.3 L1221.7 1553.5 L1225.5 1552.9 L1229.8 1553.5 L1233.8 1550 L1238.2 1549.6 L1241.8 1549.5 L1244.9 1545.9 L1248.6 1545.7 L1252.2 1547.9 L1255.2 1546.3 L1259.2 1546 L1263.3 1543 L1266.3 1541.3 L1269.2 1540.4 L1273 1540.5 L1276.5 1536.8 L1280.6 1535.5 L1284.7 1534.3 L1287.3 1535.4 L1290.3 1536.3 L1294.6 1531.9 L1298.6 1533.8 L1302.8 1532.1 L1307 1536.1 L1310.8 1530.5 L1314 1529.8 L1317.1 1529.2 L1321 1526.8 L1324.9 1525.6 L1329.4 1520 L1333.2 1519.6 L1337 1520.4 L1339.5 1520.5 L1343.5 1519.2 L1347.9 1518.3 L1351.8 1516.6 L1355.4 1512.7 L1358.7 1515.2 L1363.4 1511.1 L1366.5 1508.2 L1370.7 1510.5 L1374.3 1508.4 L1378 1509.3 L1380.6 1509.1 L1384.9 1506.9 L1388.4 1508 L1392.9 1504.5 L1397.5 1501.6 L1402 1502 L1406 1499.6 L1408.9 1496.4 L1411.8 1494.6 L1415.2 1494.6 L1418.1 1493.3 L1422.6 1491.7 L1426.1 1493.2 L1430.1 1492.3 L1433 1491 L1436.8 1492.1 L1439.5 1490.5 L1442.6 1490.9 L1446.8 1493.5 L1450.3 1488.7 L1454.6 1489.7 L1458.2 1488.8 L1461.8 1483.1 L1465.3 1480.4 L1468.6 1480.7 L1472.3 1481.2 L1475.5 1480.1 L1479.8 1478.3 L1482.8 1478.4 L1486.9 1479.6 L1490.3 1481" fill="none" stroke="#0000FF" stroke-width="0.8" stroke-linejoin="round" stroke-opacity="0.8"/>
<path d="M889.6 1575.9h3.7v3.7h-3.7zM893.7 1579.3h3.7v3.7h-3.7zM897.9 1580.1h3.7v3.7h-3.7zM901.2 1581.4h3.7v3.7h-3.7zM903.8 1577.9h3.7v3.7h-3.7zM907.6 1576.5h3.7v3.7h-3.7zM910.4 1577.4h3.7v3.7h-3.7zM914.5 1574h3.7v3.7h-3.7zM917.8 1574.2h3.7v3.7h-3.7zM921.3 1569.7h3.7v3.7h-3.7zM925.9 1570.7h3.7v3.7h-3.7zM930.1 1571.3h3.7v3.7h-3.7zM934.4 1570h3.7v3.7h-3.7zM938.2 1570.4h3.7v3.7h-3.7zM942.7 1569h3.7v3.7h-3.7zM945.3 1572.2h3.7v3.7h-3.7zM949.7 1568.3h3.7v3.7h-3.7zM953.1 1567.9h3.7v3.7h-3.7zM956.1 1565.1h3.7v3.7h-3.7zM959.8 1569.3h3.7v3.7h-3.7zM964.3 1563.2h3.7v3.7h-3.7zM967.6 1562.4h3.7v3.7h-3.7zM972.1 1562.9h3.7v3.7h-3.7zM975.6 1562.4h3.7v3.7h-3.7zM980.2 1562.9h3.7v3.7h-3.7zM984.4 1561.7h3.7v3.7h-3.7zM988.6 1562.6h3.7v3.7h-3.7zM991.9 1562.9h3.7v3.7h-3.7zM995.7 1563.3h3.7v3.7h-3.7zM998.7 1558.8h3.7v3.7h-3.7zM1003 1559.4h3.7v3.7h-3.7zM1006 1558.2h3.7v3.7h-3.7zM1010 1556h3.7v3.7h-3.7zM1012.7 1558.8h3.7v3.7h-3.7zM1015.8 1557.9h3.7v3.7h-3.7zM1019.1 1559.7h3.7v3.7h-3.7zM1021.9 1558.2h3.7v3.7h-3.7zM1025 1558.9h3.7v3.7h-3.7zM1028 1558.2h3.7v3.7h-3.7zM1030.6 1560.2h3.7v3.7h-3.7zM1033.8 1558.3h3.7v3.7h-3.7zM1037.4 1557.4h3.7v3.7h-3.7zM1040.8 1559h3.7v3.7h-3.7zM1045.3 1557.7h3.7v3.7h-3.7zM1048 1558.3h3.7v3.7h-3.7zM1051.8 1559.2h3.7v3.7h-3.7zM1055.1 1556.3h3.7v3.7h-3.7zM1057.7 1559.7h3.7v3.7h-3.7zM1061.9 1557.5h3.7v3.7h-3.7zM1065.3 1557.8h3.7v3.7h-3.7zM1069.9 1553.9h3.7v3.7h-3.7zM1074.1 1554.4h3.7v3.7h-3.7zM1078.5 1555.3h3.7v3.7h-3.7zM1082.3 1557.3h3.7v3.7h-3.7zM1085.5 1556.4h3.7v3.7h-3.7zM1089.9 1554.1h3.7v3.7h-3.7zM1093.3 1558.8h3.7v3.7h-3.7zM1097.7 1558.1h3.7v3.7h-3.7zM1102.2 1558.2h3.7v3.7h-3.7zM1105.5 1557.9h3.7v3.7h-3.7zM1109.6 1556.6h3.7v3.7h-3.7zM1113.8 1557.9h3.7v3.7h-3.7zM1118.5 1561.2h3.7v3.7h-3.7zM1122 1559.2h3.7v3.7h-3.7zM1125 1559.6h3.7v3.7h-3.7zM1128.1 1557.2h3.7v3.7h-3.7zM1131.4 1556.8h3.7v3.7h-3.7zM1134.1 1560h3.7v3.7h-3.7zM1138.1 1559.5h3.7v3.7h-3.7zM1140.7 1559.3h3.7v3.7h-3.7zM1144.3 1561.9h3.7v3.7h-3.7zM1148.9 1560.5h3.7v3.7h-3.7zM1152.3 1558.9h3.7v3.7h-3.7zM1155.3 1558.9h3.7v3.7h-3.7zM1158.7 1556.2h3.7v3.7h-3.7zM1161.8 1558.2h3.7v3.7h-3.7zM1164.8 1557.9h3.7v3.7h-3.7zM1167.8 1557.1h3.7v3.7h-3.7zM1171 1559.3h3.7v3.7h-3.7zM1174.5 1558.3h3.7v3.7h-3.7zM1177.7 1555.6h3.7v3.7h-3.7zM1181.6 1558.9h3.7v3.7h-3.7zM1185.9 1556.8h3.7v3.7h-3.7zM1188.5 1556.6h3.7v3.7h-3.7zM1192 1556h3.7v3.7h-3.7zM1195.9 1556.9h3.7v3.7h-3.7zM1199.4 1551h3.7v3.7h-3.7zM1203.4 1554h3.7v3.7h-3.7zM1206.3 1555.1h3.7v3.7h-3.7zM1210.9 1553.8h3.7v3.7h-3.7zM1215.5 1552.4h3.7v3.7h-3.7zM1219.9 1551.7h3.7v3.7h-3.7zM1223.6 1551h3.7v3.7h-3.7zM1228 1551.7h3.7v3.7h-3.7zM1231.9 1548.1h3.7v3.7h-3.7zM1236.3 1547.7h3.7v3.7h-3.7zM1239.9 1547.6h3.7v3.7h-3.7zM1243 1544h3.7v3.7h-3.7zM1246.8 1543.9h3.7v3.7h-3.7zM1250.4 1546h3.7v3.7h-3.7zM1253.3 1544.4h3.7v3.7h-3.7zM1257.3 1544.1h3.7v3.7h-3.7zM1261.4 1541.1h3.7v3.7h-3.7zM1264.5 1539.4h3.7v3.7h-3.7zM1267.4 1538.6h3.7v3.7h-3.7zM1271.1 1538.6h3.7v3.7h-3.7zM1274.7 1534.9h3.7v3.7h-3.7zM1278.7 1533.6h3.7v3.7h-3.7zM1282.9 1532.4h3.7v3.7h-3.7zM1285.4 1533.5h3.7v3.7h-3.7zM1288.4 1534.5h3.7v3.7h-3.7zM1292.8 1530.1h3.7v3.7h-3.7zM1296.8 1532h3.7v3.7h-3.7zM1301 1530.3h3.7v3.7h-3.7zM1305.1 1534.3h3.7v3.7h-3.7zM1308.9 1528.6h3.7v3.7h-3.7zM1312.1 1527.9h3.7v3.7h-3.7zM1315.3 1527.4h3.7v3.7h-3.7zM1319.1 1524.9h3.7v3.7h-3.7zM1323 1523.7h3.7v3.7h-3.7zM1327.5 1518.2h3.7v3.7h-3.7zM1331.4 1517.7h3.7v3.7h-3.7zM1335.1 1518.5h3.7v3.7h-3.7zM1337.7 1518.7h3.7v3.7h-3.7zM1341.6 1517.4h3.7v3.7h-3.7zM1346 1516.4h3.7v3.7h-3.7zM1349.9 1514.7h3.7v3.7h-3.7zM1353.6 1510.8h3.7v3.7h-3.7zM1356.8 1513.4h3.7v3.7h-3.7zM1361.5 1509.2h3.7v3.7h-3.7zM1364.7 1506.3h3.7v3.7h-3.7zM1368.9 1508.6h3.7v3.7h-3.7zM1372.5 1506.6h3.7v3.7h-3.7zM1376.2 1507.5h3.7v3.7h-3.7zM1378.8 1507.2h3.7v3.7h-3.7zM1383 1505.1h3.7v3.7h-3.7zM1386.5 1506.2h3.7v3.7h-3.7zM1391.1 1502.7h3.7v3.7h-3.7zM1395.7 1499.7h3.7v3.7h-3.7zM1400.1 1500.2h3.7v3.7h-3.7zM1404.1 1497.8h3.7v3.7h-3.7zM1407 1494.6h3.7v3.7h-3.7zM1410 1492.8h3.7v3.7h-3.7zM1413.3 1492.7h3.7v3.7h-3.7zM1416.2 1491.4h3.7v3.7h-3.7zM1420.8 1489.8h3.7v3.7h-3.7zM1424.2 1491.4h3.7v3.7h-3.7zM1428.3 1490.4h3.7v3.7h-3.7zM1431.2 1489.2h3.7v3.7h-3.7zM1434.9 1490.3h3.7v3.7h-3.7zM1437.6 1488.7h3.7v3.7h-3.7zM1440.7 1489h3.7v3.7h-3.7zM1445 1491.6h3.7v3.7h-3.7zM1448.4 1486.9h3.7v3.7h-3.7zM1452.7 1487.8h3.7v3.7h-3.7zM1456.4 1486.9h3.7v3.7h-3.7zM1460 1481.3h3.7v3.7h-3.7zM1463.5 1478.5h3.7v3.7h-3.7zM1466.8 1478.9h3.7v3.7h-3.7zM1470.5 1479.3h3.7v3.7h-3.7zM1473.6 1478.3h3.7v3.7h-3.7zM1477.9 1476.5h3.7v3.7h-3.7zM1481 1476.5h3.7v3.7h-3.7zM1485.1 1477.8h3.7v3.7h-3.7zM1488.4 1479.2h3.7v3.7h-3.7z" fill="#0000FF"/>
<path d="M891.5 1643.2 L895.2 1642.5 L898.7 1638.9 L901.4 1640.2 L904.7 1637.3 L908.6 1631.7 L911.1 1636.2 L915.5 1631.9 L919.9 1631 L922.5 1629.8 L926.8 1629.9 L929.7 1630.6 L933.7 1630.5 L936.6 1626.2 L940.6 1627.1 L945.2 1621.9 L949.8 1627.3 L953.8 1620.1 L956.6 1616.6 L960 1618.2 L963.1 1616.7 L967.7 1613.4 L970.9 1615 L974.6 1615.4 L978 1611.4 L980.8 1611.8 L984.2 1612.1 L988.4 1613.5 L991.8 1611 L995.8 1611.2 L999.5 1608.8 L1002.2 1613.3 L1006.3 1605.8 L1010.3 1606.2 L1014.6 1611.7 L1017.4 1613.7 L1022 1607.8 L1026.4 1607.4 L1030.9 1605.1 L1035.5 1608.5 L1039.3 1608.8 L1042.7 1609.3 L1045.3 1607.4 L1049.3 1607.9 L1053.2 1611.1 L1057.1 1608.5 L1059.7 1607 L1064.2 1608.3 L1067.6 1611.5 L1070.3 1604.9 L1074.9 1608.2 L1079 1606.2 L1082.7 1605.9 L1086.9 1604.6 L1091.1 1608.3 L1095.1 1612.5 L1098.4 1604.5 L1101.6 1610.7 L1105.5 1611.9 L1108.4 1611.2 L1111.3 1612.5 L1114.3 1612.9 L1117.8 1613.2 L1121.6 1619.5 L1125.2 1615.1 L1129.4 1617.3 L1134 1620.6 L1136.7 1618.6 L1139.6 1620.7 L1143.7 1621.7 L1147 1620.1 L1150.9 1618.9 L1153.6 1620.3 L1156.4 1619.9 L1160.9 1621 L1164.3 1625.8 L1167.1 1624 L1171.6 1626.5 L1174.6 1625.9 L1177.3 1629.4 L1181 1630.4 L1184.8 1631.9 L1187.5 1631 L1191.5 1633 L1194.6 1631.8 L1199.3 1631.7 L1202.6 1632.9 L1206.6 1638.2 L1210.5 1634.4 L1214.3 1635.1 L1216.9 1637.5 L1221.2 1636.9 L1224.4 1642 L1228.1 1638.9 L1232.5 1641.1 L1236.4 1639.4 L1239.4 1640.7 L1244.1 1640.8 L1248.3 1638.8 L1251.9 1639.6 L1256.1 1640.2 L1259.3 1639.9 L1262.5 1636.9 L1266 1638.2 L1269.2 1636.5 L1272.4 1635.9 L1276.3 1636.6 L1279.9 1636.8 L1283 1637.5 L1286.9 1634.9 L1290.3 1631.5 L1293.8 1630.4 L1297.8 1627.1 L1301.7 1627.1 L1306.4 1626.2 L1309.6 1625.2 L1313.4 1622.1 L1317.7 1621.6 L1320.9 1619.5 L1324.2 1619.4 L1327.8 1615.2 L1332.4 1614 L1335 1614.3 L1338.9 1612.5 L1342.4 1612.6 L1346.5 1612.6 L1351 1610.1 L1353.6 1607.5 L1357.9 1601.4 L1362.6 1598.9 L1365.9 1596.9 L1370 1598.2 L1374.5 1600.1 L1378.2 1597.3 L1381.4 1595.3 L1386.1 1594.5 L1389.5 1595.2 L1392.8 1593.3 L1396.9 1587 L1400.5 1587.1 L1403.1 1589.1 L1405.7 1588.3 L1409.5 1587.8 L1412.9 1587.1 L1416.9 1580.2 L1420 1583 L1423.9 1581.1 L1428.4 1580.8 L1431.1 1581.6 L1434.2 1576.8 L1438.6 1583.8 L1442.6 1579.7 L1445.4 1577.4 L1449.2 1576.5 L1453.3 1573.7 L1457 1575.8 L1460.4 1573.4 L1463 1574.3 L1465.9 1575.5 L1470.1 1574 L1473.7 1571.2 L1477 1567.6 L1481.6 1569 L1484.5 1566.8 L1487 1565.3 L1490.3 1566.5" fill="none" stroke="#00FF00" stroke-width="0.8" stroke-linejoin="round" stroke-opacity="0.8"/>
<path d="M889.6 1641.4h3.7v3.7h-3.7zM893.4 1640.6h3.7v3.7h-3.7zM896.8 1637h3.7v3.7h-3.7zM899.6 1638.4h3.7v3.7h-3.7zM902.8 1635.4h3.7v3.7h-3.7zM906.7 1629.8h3.7v3.7h-3.7zM909.3 1634.3h3.7v3.7h-3.7zM913.7 1630.1h3.7v3.7h-3.7zM918 1629.2h3.7v3.7h-3.7zM920.7 1627.9h3.7v3.7h-3.7zM924.9 1628.1h3.7v3.7h-3.7zM927.8 1628.8h3.7v3.7h-3.7zM931.9 1628.7h3.7v3.7h-3.7zM934.7 1624.4h3.7v3.7h-3.7zM938.7 1625.2h3.7v3.7h-3.7zM943.3 1620h3.7v3.7h-3.7zM948 1625.4h3.7v3.7h-3.7zM951.9 1618.3h3.7v3.7h-3.7zM954.8 1614.8h3.7v3.7h-3.7zM958.2 1616.3h3.7v3.7h-3.7zM961.3 1614.8h3.7v3.7h-3.7zM965.9 1611.5h3.7v3.7h-3.7zM969 1613.1h3.7v3.7h-3.7zM972.8 1613.5h3.7v3.7h-3.7zM976.2 1609.5h3.7v3.7h-3.7zM979 1609.9h3.7v3.7h-3.7zM982.3 1610.3h3.7v3.7h-3.7zM986.5 1611.7h3.7v3.7h-3.7zM989.9 1609.1h3.7v3.7h-3.7zM993.9 1609.3h3.7v3.7h-3.7zM997.7 1607h3.7v3.7h-3.7zM1000.4 1611.4h3.7v3.7h-3.7zM1004.5 1604h3.7v3.7h-3.7zM1008.5 1604.4h3.7v3.7h-3.7zM1012.7 1609.8h3.7v3.7h-3.7zM1015.5 1611.8h3.7v3.7h-3.7zM1020.2 1606h3.7v3.7h-3.7zM1024.6 1605.6h3.7v3.7h-3.7zM1029 1603.2h3.7v3.7h-3.7zM1033.6 1606.7h3.7v3.7h-3.7zM1037.5 1606.9h3.7v3.7h-3.7zM1040.8 1607.5h3.7v3.7h-3.7zM1043.5 1605.5h3.7v3.7h-3.7zM1047.5 1606.1h3.7v3.7h-3.7zM1051.4 1609.3h3.7v3.7h-3.7zM1055.3 1606.7h3.7v3.7h-3.7zM1057.8 1605.2h3.7v3.7h-3.7zM1062.4 1606.5h3.7v3.7h-3.7zM1065.7 1609.6h3.7v3.7h-3.7zM1068.4 1603.1h3.7v3.7h-3.7zM1073.1 1606.4h3.7v3.7h-3.7zM1077.2 1604.4h3.7v3.7h-3.7zM1080.8 1604h3.7v3.7h-3.7zM1085 1602.8h3.7v3.7h-3.7zM1089.3 1606.5h3.7v3.7h-3.7zM1093.2 1610.6h3.7v3.7h-3.7zM1096.5 1602.6h3.7v3.7h-3.7zM1099.7 1608.9h3.7v3.7h-3.7zM1103.7 1610h3.7v3.7h-3.7zM1106.5 1609.3h3.7v3.7h-3.7zM1109.5 1610.6h3.7v3.7h-3.7zM1112.4 1611.1h3.7v3.7h-3.7zM1115.9 1611.4h3.7v3.7h-3.7zM1119.8 1617.6h3.7v3.7h-3.7zM1123.4 1613.2h3.7v3.7h-3.7zM1127.6 1615.4h3.7v3.7h-3.7zM1132.1 1618.7h3.7v3.7h-3.7zM1134.9 1616.8h3.7v3.7h-3.7zM1137.7 1618.9h3.7v3.7h-3.7zM1141.9 1619.8h3.7v3.7h-3.7zM1145.2 1618.2h3.7v3.7h-3.7zM1149.1 1617h3.7v3.7h-3.7zM1151.8 1618.5h3.7v3.7h-3.7zM1154.6 1618h3.7v3.7h-3.7zM1159 1619.2h3.7v3.7h-3.7zM1162.5 1623.9h3.7v3.7h-3.7zM1165.3 1622.2h3.7v3.7h-3.7zM1169.8 1624.7h3.7v3.7h-3.7zM1172.8 1624h3.7v3.7h-3.7zM1175.5 1627.5h3.7v3.7h-3.7zM1179.2 1628.6h3.7v3.7h-3.7zM1182.9 1630h3.7v3.7h-3.7zM1185.6 1629.2h3.7v3.7h-3.7zM1189.6 1631.1h3.7v3.7h-3.7zM1192.8 1630h3.7v3.7h-3.7zM1197.4 1629.9h3.7v3.7h-3.7zM1200.7 1631h3.7v3.7h-3.7zM1204.8 1636.4h3.7v3.7h-3.7zM1208.7 1632.5h3.7v3.7h-3.7zM1212.4 1633.3h3.7v3.7h-3.7zM1215.1 1635.7h3.7v3.7h-3.7zM1219.4 1635h3.7v3.7h-3.7zM1222.6 1640.2h3.7v3.7h-3.7zM1226.2 1637.1h3.7v3.7h-3.7zM1230.6 1639.2h3.7v3.7h-3.7zM1234.6 1637.5h3.7v3.7h-3.7zM1237.6 1638.8h3.7v3.7h-3.7zM1242.2 1638.9h3.7v3.7h-3.7zM1246.5 1637h3.7v3.7h-3.7zM1250.1 1637.8h3.7v3.7h-3.7zM1254.2 1638.3h3.7v3.7h-3.7zM1257.4 1638h3.7v3.7h-3.7zM1260.7 1635h3.7v3.7h-3.7zM1264.1 1636.4h3.7v3.7h-3.7zM1267.3 1634.7h3.7v3.7h-3.7zM1270.5 1634.1h3.7v3.7h-3.7zM1274.5 1634.7h3.7v3.7h-3.7zM1278 1634.9h3.7v3.7h-3.7zM1281.2 1635.6h3.7v3.7h-3.7zM1285 1633.1h3.7v3.7h-3.7zM1288.4 1629.6h3.7v3.7h-3.7zM1292 1628.5h3.7v3.7h-3.7zM1296 1625.2h3.7v3.7h-3.7zM1299.9 1625.3h3.7v3.7h-3.7zM1304.5 1624.4h3.7v3.7h-3.7zM1307.7 1623.3h3.7v3.7h-3.7zM1311.6 1620.2h3.7v3.7h-3.7zM1315.8 1619.7h3.7v3.7h-3.7zM1319.1 1617.7h3.7v3.7h-3.7zM1322.4 1617.6h3.7v3.7h-3.7zM1326 1613.3h3.7v3.7h-3.7zM1330.5 1612.2h3.7v3.7h-3.7zM1333.2 1612.4h3.7v3.7h-3.7zM1337.1 1610.7h3.7v3.7h-3.7zM1340.6 1610.7h3.7v3.7h-3.7zM1344.6 1610.8h3.7v3.7h-3.7zM1349.2 1608.2h3.7v3.7h-3.7zM1351.7 1605.7h3.7v3.7h-3.7zM1356.1 1599.6h3.7v3.7h-3.7zM1360.7 1597h3.7v3.7h-3.7zM1364 1595h3.7v3.7h-3.7zM1368.1 1596.4h3.7v3.7h-3.7zM1372.7 1598.3h3.7v3.7h-3.7zM1376.3 1595.4h3.7v3.7h-3.7zM1379.6 1593.4h3.7v3.7h-3.7zM1384.2 1592.7h3.7v3.7h-3.7zM1387.7 1593.4h3.7v3.7h-3.7zM1391 1591.4h3.7v3.7h-3.7zM1395 1585.1h3.7v3.7h-3.7zM1398.6 1585.2h3.7v3.7h-3.7zM1401.3 1587.3h3.7v3.7h-3.7zM1403.9 1586.4h3.7v3.7h-3.7zM1407.6 1585.9h3.7v3.7h-3.7zM1411.1 1585.2h3.7v3.7h-3.7zM1415 1578.4h3.7v3.7h-3.7zM1418.1 1581.1h3.7v3.7h-3.7zM1422 1579.3h3.7v3.7h-3.7zM1426.5 1579h3.7v3.7h-3.7zM1429.2 1579.8h3.7v3.7h-3.7zM1432.3 1574.9h3.7v3.7h-3.7zM1436.7 1582h3.7v3.7h-3.7zM1440.7 1577.9h3.7v3.7h-3.7zM1443.6 1575.5h3.7v3.7h-3.7zM1447.4 1574.7h3.7v3.7h-3.7zM1451.5 1571.8h3.7v3.7h-3.7zM1455.1 1574h3.7v3.7h-3.7zM1458.6 1571.5h3.7v3.7h-3.7zM1461.1 1572.5h3.7v3.7h-3.7zM1464 1573.7h3.7v3.7h-3.7zM1468.3 1572.2h3.7v3.7h-3.7zM1471.8 1569.4h3.7v3.7h-3.7zM1475.2 1565.8h3.7v3.7h-3.7zM1479.7 1567.1h3.7v3.7h-3.7zM1482.6 1564.9h3.7v3.7h-3.7zM1485.2 1563.5h3.7v3.7h-3.7zM1488.5 1564.6h3.7v3.7h-3.7z" fill="#00FF00"/>
<path d="M893.9 1693.2 L894.2 1691.8 L895.3 1700.3 L895.7 1694.7 L896.1 1691.8 L896.4 1691.5 L891.5 1695.4 L895.8 1702.9 L898.7 1696.4 L902.4 1690.7 L905.8 1686.3 L908.7 1688.9 L912.1 1678.3 L915.5 1674.9 L919.4 1680.1 L923.5 1675.8 L926 1685.6 L929.1 1678 L932.9 1678.5 L935.6 1674.3 L940.3 1679.8 L944.6 1684.4 L947.2 1680.3 L951 1671.6 L954.8 1671.5 L957.3 1677.6 L960.3 1672.2 L963.1 1674.9 L966.6 1669.5 L970.4 1670.4 L973.9 1676.3 L978.4 1664.5 L982.7 1664.2 L986.1 1663.3 L989 1664 L992.3 1652.9 L996.7 1656.8 L1000 1655.5 L1004.6 1659.6 L1008.4 1651.1 L1011.4 1655.2 L1015.3 1657.4 L1019.3 1658.1 L1022.9 1649 L1026 1646.7 L1029.9 1650.8 L1033.5 1644.1 L1037.4 1648.9 L1041.1 1640.8 L1043.9 1648.4 L1048.4 1648.2 L1050.9 1641.4 L1054.1 1642.4 L1057 1640.3 L1060.3 1647.4 L1064.1 1636.8 L1067.8 1639.2 L1071.9 1644.1 L1075.5 1636.2 L1079.8 1633.1 L1083.1 1634 L1086.8 1637.5 L1090.4 1632.9 L1093 1636.8 L1096 1625.8 L1098.7 1632.9 L1101.7 1627 L1104.3 1639.3 L1107.4 1635.4 L1110.8 1639.6 L1114.7 1631.8 L1119 1638.7 L1122.4 1638.8 L1126.3 1637.8 L1130 1632.2 L1133 1636.2 L1135.9 1630.3 L1139.4 1638.7 L1143.7 1632.5 L1147.5 1636.4 L1151.5 1635.7 L1155.6 1643.6 L1159.4 1648.8 L1162.5 1647.7 L1166 1643.3 L1169.6 1641 L1172.1 1645.3 L1175.3 1648.3 L1178.6 1636.6 L1181.1 1642.8 L1184.9 1645 L1188.6 1645.3 L1191.3 1654.6 L1194.4 1646.8 L1198.8 1651.7 L1202.3 1657.8 L1205.4 1657.7 L1209.8 1649.2 L1213.3 1654.1 L1217.1 1658.9 L1221.6 1663.8 L1225.3 1664.5 L1228.2 1675.4 L1232.2 1671.3 L1236.8 1672.7 L1240.2 1680.8 L1244.1 1678.5 L1248.5 1683.2 L1251.4 1683.7 L1255.6 1685.7 L1259.2 1687.8 L1262.9 1695.2 L1267.4 1697.2 L1271.7 1695.8 L1274.5 1699.1 L1277.9 1712.3 L1281.9 1709.5 L1286.1 1714.2 L1289 1712.7 L1293 1713.8 L1296.7 1720.7 L1299.4 1716.2 L1303 1719.3 L1306.5 1720.2 L1310 1724 L1313.1 1723.6 L1316.4 1722.3 L1320.6 1721.6 L1323.8 1720.8 L1328.2 1716.2 L1332.2 1714.1 L1336.4 1712.6 L1339.8 1709.3 L1342.7 1712.8 L1345.2 1707.2 L1348.6 1709.3 L1352.1 1703.3 L1355.5 1704.5 L1358.2 1700.7 L1360.8 1699.8 L1365.2 1701 L1368.6 1697.9 L1373 1693.6 L1377.3 1692.6 L1381.1 1683.7 L1385.5 1680.4 L1390 1676.4 L1393.9 1672.2 L1396.5 1667.4 L1400.4 1668 L1404 1662.8 L1408.2 1663.9 L1411.5 1662.7 L1415.5 1662.7 L1418.8 1663.7 L1422.6 1657.9 L1426.1 1655.9 L1429.1 1655.3 L1432.3 1657.9 L1434.9 1655.5 L1438.8 1653.8 L1443.2 1657.8 L1447 1654.9 L1449.9 1655.9 L1453.6 1654.9 L1456.7 1651.7 L1460 1650.9 L1462.6 1650.8 L1467.2 1648.8 L1470.8 1650.4 L1474.6 1650.4 L1477.3 1643.6 L1480.1 1644.8 L1484.5 1644.9 L1488.9 1644.8" fill="none" stroke="#FF0000" stroke-width="0.8" stroke-linejoin="round" stroke-opacity="0.8"/>
<path d="M892.1 1691.3h3.7v3.7h-3.7zM892.3 1689.9h3.7v3.7h-3.7zM893.5 1698.4h3.7v3.7h-3.7zM893.8 1692.9h3.7v3.7h-3.7zM894.2 1689.9h3.7v3.7h-3.7zM894.6 1689.6h3.7v3.7h-3.7zM889.6 1693.6h3.7v3.7h-3.7zM894 1701h3.7v3.7h-3.7zM896.9 1694.6h3.7v3.7h-3.7zM900.6 1688.9h3.7v3.7h-3.7zM903.9 1684.4h3.7v3.7h-3.7zM906.9 1687h3.7v3.7h-3.7zM910.2 1676.4h3.7v3.7h-3.7zM913.7 1673h3.7v3.7h-3.7zM917.5 1678.3h3.7v3.7h-3.7zM921.6 1674h3.7v3.7h-3.7zM924.2 1683.7h3.7v3.7h-3.7zM927.3 1676.2h3.7v3.7h-3.7zM931.1 1676.6h3.7v3.7h-3.7zM933.8 1672.5h3.7v3.7h-3.7zM938.5 1678h3.7v3.7h-3.7zM942.8 1682.5h3.7v3.7h-3.7zM945.4 1678.5h3.7v3.7h-3.7zM949.1 1669.7h3.7v3.7h-3.7zM953 1669.7h3.7v3.7h-3.7zM955.5 1675.7h3.7v3.7h-3.7zM958.4 1670.3h3.7v3.7h-3.7zM961.3 1673h3.7v3.7h-3.7zM964.8 1667.7h3.7v3.7h-3.7zM968.5 1668.6h3.7v3.7h-3.7zM972 1674.5h3.7v3.7h-3.7zM976.5 1662.6h3.7v3.7h-3.7zM980.8 1662.4h3.7v3.7h-3.7zM984.2 1661.5h3.7v3.7h-3.7zM987.2 1662.1h3.7v3.7h-3.7zM990.5 1651h3.7v3.7h-3.7zM994.8 1654.9h3.7v3.7h-3.7zM998.1 1653.7h3.7v3.7h-3.7zM1002.8 1657.7h3.7v3.7h-3.7zM1006.5 1649.3h3.7v3.7h-3.7zM1009.6 1653.3h3.7v3.7h-3.7zM1013.5 1655.5h3.7v3.7h-3.7zM1017.4 1656.3h3.7v3.7h-3.7zM1021.1 1647.1h3.7v3.7h-3.7zM1024.2 1644.8h3.7v3.7h-3.7zM1028.1 1648.9h3.7v3.7h-3.7zM1031.6 1642.2h3.7v3.7h-3.7zM1035.6 1647h3.7v3.7h-3.7zM1039.3 1639h3.7v3.7h-3.7zM1042 1646.5h3.7v3.7h-3.7zM1046.5 1646.4h3.7v3.7h-3.7zM1049.1 1639.6h3.7v3.7h-3.7zM1052.3 1640.6h3.7v3.7h-3.7zM1055.2 1638.5h3.7v3.7h-3.7zM1058.4 1645.6h3.7v3.7h-3.7zM1062.3 1635h3.7v3.7h-3.7zM1066 1637.4h3.7v3.7h-3.7zM1070 1642.2h3.7v3.7h-3.7zM1073.6 1634.4h3.7v3.7h-3.7zM1078 1631.2h3.7v3.7h-3.7zM1081.2 1632.1h3.7v3.7h-3.7zM1084.9 1635.6h3.7v3.7h-3.7zM1088.5 1631.1h3.7v3.7h-3.7zM1091.1 1634.9h3.7v3.7h-3.7zM1094.1 1624h3.7v3.7h-3.7zM1096.8 1631.1h3.7v3.7h-3.7zM1099.9 1625.1h3.7v3.7h-3.7zM1102.4 1637.5h3.7v3.7h-3.7zM1105.6 1633.6h3.7v3.7h-3.7zM1108.9 1637.7h3.7v3.7h-3.7zM1112.8 1629.9h3.7v3.7h-3.7zM1117.2 1636.8h3.7v3.7h-3.7zM1120.6 1637h3.7v3.7h-3.7zM1124.5 1635.9h3.7v3.7h-3.7zM1128.1 1630.3h3.7v3.7h-3.7zM1131.1 1634.4h3.7v3.7h-3.7zM1134.1 1628.4h3.7v3.7h-3.7zM1137.6 1636.8h3.7v3.7h-3.7zM1141.8 1630.7h3.7v3.7h-3.7zM1145.6 1634.5h3.7v3.7h-3.7zM1149.6 1633.8h3.7v3.7h-3.7zM1153.7 1641.7h3.7v3.7h-3.7zM1157.6 1646.9h3.7v3.7h-3.7zM1160.6 1645.8h3.7v3.7h-3.7zM1164.1 1641.4h3.7v3.7h-3.7zM1167.7 1639.1h3.7v3.7h-3.7zM1170.3 1643.5h3.7v3.7h-3.7zM1173.5 1646.5h3.7v3.7h-3.7zM1176.7 1634.8h3.7v3.7h-3.7zM1179.3 1640.9h3.7v3.7h-3.7zM1183 1643.2h3.7v3.7h-3.7zM1186.7 1643.5h3.7v3.7h-3.7zM1189.4 1652.7h3.7v3.7h-3.7zM1192.5 1645h3.7v3.7h-3.7zM1197 1649.8h3.7v3.7h-3.7zM1200.4 1655.9h3.7v3.7h-3.7zM1203.5 1655.8h3.7v3.7h-3.7zM1207.9 1647.3h3.7v3.7h-3.7zM1211.4 1652.2h3.7v3.7h-3.7zM1215.3 1657.1h3.7v3.7h-3.7zM1219.8 1662h3.7v3.7h-3.7zM1223.5 1662.6h3.7v3.7h-3.7zM1226.3 1673.5h3.7v3.7h-3.7zM1230.4 1669.5h3.7v3.7h-3.7zM1234.9 1670.8h3.7v3.7h-3.7zM1238.3 1678.9h3.7v3.7h-3.7zM1242.3 1676.6h3.7v3.7h-3.7zM1246.7 1681.4h3.7v3.7h-3.7zM1249.6 1681.9h3.7v3.7h-3.7zM1253.8 1683.9h3.7v3.7h-3.7zM1257.3 1685.9h3.7v3.7h-3.7zM1261 1693.3h3.7v3.7h-3.7zM1265.5 1695.3h3.7v3.7h-3.7zM1269.8 1693.9h3.7v3.7h-3.7zM1272.6 1697.2h3.7v3.7h-3.7zM1276 1710.5h3.7v3.7h-3.7zM1280 1707.6h3.7v3.7h-3.7zM1284.3 1712.4h3.7v3.7h-3.7zM1287.2 1710.8h3.7v3.7h-3.7zM1291.2 1712h3.7v3.7h-3.7zM1294.8 1718.8h3.7v3.7h-3.7zM1297.5 1714.4h3.7v3.7h-3.7zM1301.2 1717.4h3.7v3.7h-3.7zM1304.7 1718.4h3.7v3.7h-3.7zM1308.1 1722.2h3.7v3.7h-3.7zM1311.2 1721.7h3.7v3.7h-3.7zM1314.5 1720.5h3.7v3.7h-3.7zM1318.7 1719.7h3.7v3.7h-3.7zM1322 1718.9h3.7v3.7h-3.7zM1326.3 1714.3h3.7v3.7h-3.7zM1330.4 1712.2h3.7v3.7h-3.7zM1334.5 1710.7h3.7v3.7h-3.7zM1337.9 1707.5h3.7v3.7h-3.7zM1340.8 1710.9h3.7v3.7h-3.7zM1343.3 1705.4h3.7v3.7h-3.7zM1346.7 1707.4h3.7v3.7h-3.7zM1350.3 1701.4h3.7v3.7h-3.7zM1353.6 1702.7h3.7v3.7h-3.7zM1356.4 1698.8h3.7v3.7h-3.7zM1359 1697.9h3.7v3.7h-3.7zM1363.4 1699.1h3.7v3.7h-3.7zM1366.8 1696.1h3.7v3.7h-3.7zM1371.2 1691.8h3.7v3.7h-3.7zM1375.5 1690.7h3.7v3.7h-3.7zM1379.2 1681.8h3.7v3.7h-3.7zM1383.6 1678.6h3.7v3.7h-3.7zM1388.2 1674.5h3.7v3.7h-3.7zM1392.1 1670.3h3.7v3.7h-3.7zM1394.6 1665.5h3.7v3.7h-3.7zM1398.5 1666.1h3.7v3.7h-3.7zM1402.1 1661h3.7v3.7h-3.7zM1406.3 1662h3.7v3.7h-3.7zM1409.6 1660.8h3.7v3.7h-3.7zM1413.6 1660.8h3.7v3.7h-3.7zM1417 1661.8h3.7v3.7h-3.7zM1420.7 1656h3.7v3.7h-3.7zM1424.2 1654h3.7v3.7h-3.7zM1427.2 1653.5h3.7v3.7h-3.7zM1430.4 1656.1h3.7v3.7h-3.7zM1433.1 1653.7h3.7v3.7h-3.7zM1436.9 1651.9h3.7v3.7h-3.7zM1441.4 1655.9h3.7v3.7h-3.7zM1445.2 1653h3.7v3.7h-3.7zM1448.1 1654.1h3.7v3.7h-3.7zM1451.8 1653.1h3.7v3.7h-3.7zM1454.9 1649.9h3.7v3.7h-3.7zM1458.2 1649.1h3.7v3.7h-3.7zM1460.7 1648.9h3.7v3.7h-3.7zM1465.3 1646.9h3.7v3.7h-3.7zM1469 1648.6h3.7v3.7h-3.7zM1472.7 1648.6h3.7v3.7h-3.7zM1475.4 1641.7h3.7v3.7h-3.7zM1478.2 1642.9h3.7v3.7h-3.7zM1482.7 1643h3.7v3.7h-3.7zM1487 1643h3.7v3.7h-3.7z" fill="#FF0000"/>
<path d="M891.5 1821.7 L894.9 1822.4 L899 1816.3 L902.1 1813.5 L904.8 1814.3 L909.4 1808.5 L913.1 1809.9 L917 1807.8 L920.8 1808.5 L924.4 1803.9 L927.1 1807.2 L930.3 1803.3 L934.4 1796.7 L938.9 1797.6 L943.4 1791.8 L947.9 1789.9 L950.5 1790.3 L954.6 1790.5 L958.6 1783.7 L962.5 1781.8 L966.4 1781.7 L969.2 1776.9 L973 1777.4 L977.2 1775.1 L979.8 1775.5 L984.3 1768.4 L987.1 1766.9 L990.4 1771.1 L994.1 1767.2 L998 1762.7 L1001.7 1762.2 L1005 1754.5 L1009.5 1759.3 L1012.8 1757 L1017.2 1750.4 L1020.5 1752.7 L1024.3 1746.7 L1028.7 1753.3 L1031.5 1747.7 L1034.4 1751.6 L1038.5 1750.1 L1041.3 1745.2 L1043.8 1746.1 L1046.7 1744 L1050.1 1741.3 L1054.2 1742.4 L1058.2 1742.2 L1061.2 1739.3 L1064.2 1743.2 L1066.8 1746 L1069.4 1742.4 L1072.2 1740.6 L1076.3 1739.6 L1079.6 1742.8 L1082.9 1732.6 L1086.1 1733 L1089.2 1735.7 L1093.7 1734.6 L1098.3 1730.3 L1102.8 1730.3 L1106.9 1733.9 L1110.8 1729.7 L1114.6 1730.3 L1118 1731.5 L1122 1728.7 L1125.7 1722.6 L1129.8 1726.2 L1133.9 1719.9 L1137.8 1726.5 L1141.3 1719.6 L1145.4 1718.3 L1149.6 1726.7 L1153.6 1721 L1156.5 1724.1 L1159.6 1718.9 L1163.5 1724.5 L1167.5 1716.7 L1171.3 1725.6 L1175.3 1725.2 L1179.8 1726.6 L1182.5 1729.6 L1186.1 1714.2 L1190 1727.1 L1195 1722.1 L1198.8 1714.9 L1202.1 1722.3 L1205.1 1723.1 L1208.1 1723.1 L1211.6 1727.6 L1215.1 1728.6 L1218.6 1726.6 L1222.2 1721.6 L1225.7 1712.9 L1229.2 1721.6 L1232 1733.7 L1235.4 1726.6 L1239 1723.1 L1241.7 1741.7 L1245.1 1733.7 L1248.8 1720.4 L1252.1 1733.7 L1255.5 1736.2 L1258.3 1746.7 L1261.8 1742.7 L1265.4 1725.9 L1268.9 1735.7 L1272.4 1740 L1275.6 1742.7 L1278.9 1746.2 L1281.9 1754.8 L1285.4 1752.2 L1289 1744.7 L1292.5 1753.8 L1296 1757.3 L1298.7 1763.8 L1302.2 1769.8 L1305.7 1774.1 L1309.1 1781.4 L1311.8 1791.9 L1315.6 1788.9 L1319.1 1788.4 L1321.6 1803.5 L1325.1 1815.4 L1327.9 1830.9 L1330.5 1838.7 L1335 1833.6 L1337.7 1856.6 L1339.7 1879.2 L1344.8 1879.8 L1348.4 1883.4 L1352 1886.4 L1355.8 1888.2 L1358.5 1887 L1362.1 1884 L1365.7 1882.2 L1369.2 1879.8 L1372 1873.9 L1375.2 1868.5 L1378.8 1861.3 L1382.4 1854.2 L1385.9 1848.8 L1388.7 1843.5 L1392.3 1839.9 L1395.5 1831.5 L1398.5 1821.4 L1402 1820.6 L1406.2 1819.6 L1408.6 1814.8 L1411.8 1810.1 L1415.4 1807.7 L1419 1800.8 L1421.9 1806.5 L1425.3 1802.3 L1428.9 1794 L1432.4 1797 L1435.6 1794 L1439 1788.9 L1442 1788.6 L1445.5 1792.2 L1448.8 1788.9 L1452.1 1795.5 L1455.9 1789.2 L1459 1774.9 L1462.6 1779.1 L1465.8 1783.8 L1469 1785 L1473 1782.1 L1476.5 1774.5 L1480 1772 L1483.5 1771 L1487.3 1768.9 L1491.4 1766.6" fill="none" stroke="#000000" stroke-width="0.8" stroke-linejoin="round" stroke-opacity="0.8"/>
<path d="M889.6 1819.8h3.7v3.7h-3.7zM893 1820.5h3.7v3.7h-3.7zM897.1 1814.5h3.7v3.7h-3.7zM900.2 1811.6h3.7v3.7h-3.7zM902.9 1812.4h3.7v3.7h-3.7zM907.5 1806.6h3.7v3.7h-3.7zM911.3 1808h3.7v3.7h-3.7zM915.2 1806h3.7v3.7h-3.7zM919 1806.6h3.7v3.7h-3.7zM922.5 1802.1h3.7v3.7h-3.7zM925.3 1805.4h3.7v3.7h-3.7zM928.5 1801.5h3.7v3.7h-3.7zM932.6 1794.9h3.7v3.7h-3.7zM937.1 1795.7h3.7v3.7h-3.7zM941.5 1790h3.7v3.7h-3.7zM946.1 1788h3.7v3.7h-3.7zM948.7 1788.4h3.7v3.7h-3.7zM952.8 1788.7h3.7v3.7h-3.7zM956.7 1781.9h3.7v3.7h-3.7zM960.6 1779.9h3.7v3.7h-3.7zM964.5 1779.9h3.7v3.7h-3.7zM967.3 1775h3.7v3.7h-3.7zM971.2 1775.5h3.7v3.7h-3.7zM975.4 1773.2h3.7v3.7h-3.7zM977.9 1773.7h3.7v3.7h-3.7zM982.4 1766.5h3.7v3.7h-3.7zM985.2 1765.1h3.7v3.7h-3.7zM988.6 1769.3h3.7v3.7h-3.7zM992.3 1765.4h3.7v3.7h-3.7zM996.1 1760.9h3.7v3.7h-3.7zM999.8 1760.3h3.7v3.7h-3.7zM1003.2 1752.6h3.7v3.7h-3.7zM1007.6 1757.5h3.7v3.7h-3.7zM1011 1755.2h3.7v3.7h-3.7zM1015.4 1748.5h3.7v3.7h-3.7zM1018.6 1750.9h3.7v3.7h-3.7zM1022.5 1744.8h3.7v3.7h-3.7zM1026.9 1751.4h3.7v3.7h-3.7zM1029.6 1745.9h3.7v3.7h-3.7zM1032.5 1749.7h3.7v3.7h-3.7zM1036.6 1748.3h3.7v3.7h-3.7zM1039.4 1743.4h3.7v3.7h-3.7zM1042 1744.2h3.7v3.7h-3.7zM1044.9 1742.1h3.7v3.7h-3.7zM1048.3 1739.5h3.7v3.7h-3.7zM1052.3 1740.6h3.7v3.7h-3.7zM1056.3 1740.3h3.7v3.7h-3.7zM1059.3 1737.5h3.7v3.7h-3.7zM1062.3 1741.4h3.7v3.7h-3.7zM1065 1744.1h3.7v3.7h-3.7zM1067.5 1740.6h3.7v3.7h-3.7zM1070.3 1738.7h3.7v3.7h-3.7zM1074.5 1737.7h3.7v3.7h-3.7zM1077.7 1740.9h3.7v3.7h-3.7zM1081 1730.8h3.7v3.7h-3.7zM1084.3 1731.2h3.7v3.7h-3.7zM1087.3 1733.8h3.7v3.7h-3.7zM1091.9 1732.8h3.7v3.7h-3.7zM1096.4 1728.4h3.7v3.7h-3.7zM1101 1728.5h3.7v3.7h-3.7zM1105 1732.1h3.7v3.7h-3.7zM1109 1727.8h3.7v3.7h-3.7zM1112.7 1728.4h3.7v3.7h-3.7zM1116.1 1729.7h3.7v3.7h-3.7zM1120.1 1726.9h3.7v3.7h-3.7zM1123.8 1720.8h3.7v3.7h-3.7zM1128 1724.3h3.7v3.7h-3.7zM1132.1 1718.1h3.7v3.7h-3.7zM1135.9 1724.6h3.7v3.7h-3.7zM1139.5 1717.8h3.7v3.7h-3.7zM1143.6 1716.4h3.7v3.7h-3.7zM1147.7 1724.8h3.7v3.7h-3.7zM1151.8 1719.2h3.7v3.7h-3.7zM1154.6 1722.3h3.7v3.7h-3.7zM1157.7 1717h3.7v3.7h-3.7zM1161.7 1722.7h3.7v3.7h-3.7zM1165.7 1714.9h3.7v3.7h-3.7zM1169.5 1723.8h3.7v3.7h-3.7zM1173.4 1723.4h3.7v3.7h-3.7zM1177.9 1724.7h3.7v3.7h-3.7zM1180.6 1727.7h3.7v3.7h-3.7zM1184.2 1712.3h3.7v3.7h-3.7zM1188.2 1725.2h3.7v3.7h-3.7zM1193.2 1720.2h3.7v3.7h-3.7zM1197 1713.1h3.7v3.7h-3.7zM1200.2 1720.5h3.7v3.7h-3.7zM1203.2 1721.2h3.7v3.7h-3.7zM1206.2 1721.2h3.7v3.7h-3.7zM1209.8 1725.8h3.7v3.7h-3.7zM1213.2 1726.8h3.7v3.7h-3.7zM1216.8 1724.8h3.7v3.7h-3.7zM1220.4 1719.8h3.7v3.7h-3.7zM1223.9 1711.1h3.7v3.7h-3.7zM1227.4 1719.8h3.7v3.7h-3.7zM1230.2 1731.9h3.7v3.7h-3.7zM1233.6 1724.8h3.7v3.7h-3.7zM1237.2 1721.2h3.7v3.7h-3.7zM1239.9 1739.9h3.7v3.7h-3.7zM1243.2 1731.9h3.7v3.7h-3.7zM1247 1718.6h3.7v3.7h-3.7zM1250.2 1731.9h3.7v3.7h-3.7zM1253.7 1734.4h3.7v3.7h-3.7zM1256.5 1744.9h3.7v3.7h-3.7zM1260 1740.9h3.7v3.7h-3.7zM1263.6 1724.1h3.7v3.7h-3.7zM1267.1 1733.9h3.7v3.7h-3.7zM1270.6 1738.2h3.7v3.7h-3.7zM1273.8 1740.9h3.7v3.7h-3.7zM1277.1 1744.4h3.7v3.7h-3.7zM1280.1 1753h3.7v3.7h-3.7zM1283.6 1750.4h3.7v3.7h-3.7zM1287.2 1742.9h3.7v3.7h-3.7zM1290.7 1752h3.7v3.7h-3.7zM1294.2 1755.5h3.7v3.7h-3.7zM1296.9 1762h3.7v3.7h-3.7zM1300.4 1768h3.7v3.7h-3.7zM1303.9 1772.2h3.7v3.7h-3.7zM1307.2 1779.6h3.7v3.7h-3.7zM1310 1790.1h3.7v3.7h-3.7zM1313.8 1787.1h3.7v3.7h-3.7zM1317.2 1786.6h3.7v3.7h-3.7zM1319.8 1801.7h3.7v3.7h-3.7zM1323.2 1813.6h3.7v3.7h-3.7zM1326.1 1829.1h3.7v3.7h-3.7zM1328.7 1836.9h3.7v3.7h-3.7zM1333.2 1831.8h3.7v3.7h-3.7zM1335.9 1854.8h3.7v3.7h-3.7zM1337.9 1877.4h3.7v3.7h-3.7zM1343 1878h3.7v3.7h-3.7zM1346.6 1881.6h3.7v3.7h-3.7zM1350.2 1884.6h3.7v3.7h-3.7zM1354 1886.4h3.7v3.7h-3.7zM1356.7 1885.2h3.7v3.7h-3.7zM1360.2 1882.2h3.7v3.7h-3.7zM1363.9 1880.4h3.7v3.7h-3.7zM1367.4 1878h3.7v3.7h-3.7zM1370.2 1872.1h3.7v3.7h-3.7zM1373.4 1866.7h3.7v3.7h-3.7zM1377 1859.5h3.7v3.7h-3.7zM1380.6 1852.4h3.7v3.7h-3.7zM1384.1 1847h3.7v3.7h-3.7zM1386.9 1841.7h3.7v3.7h-3.7zM1390.5 1838.1h3.7v3.7h-3.7zM1393.7 1829.7h3.7v3.7h-3.7zM1396.7 1819.6h3.7v3.7h-3.7zM1400.2 1818.8h3.7v3.7h-3.7zM1404.4 1817.8h3.7v3.7h-3.7zM1406.8 1813h3.7v3.7h-3.7zM1410 1808.2h3.7v3.7h-3.7zM1413.6 1805.9h3.7v3.7h-3.7zM1417.2 1799h3.7v3.7h-3.7zM1420.1 1804.7h3.7v3.7h-3.7zM1423.5 1800.5h3.7v3.7h-3.7zM1427.1 1792.2h3.7v3.7h-3.7zM1430.6 1795.2h3.7v3.7h-3.7zM1433.8 1792.2h3.7v3.7h-3.7zM1437.2 1787.1h3.7v3.7h-3.7zM1440.2 1786.8h3.7v3.7h-3.7zM1443.7 1790.4h3.7v3.7h-3.7zM1447 1787.1h3.7v3.7h-3.7zM1450.2 1793.7h3.7v3.7h-3.7zM1454.1 1787.4h3.7v3.7h-3.7zM1457.2 1773.1h3.7v3.7h-3.7zM1460.8 1777.2h3.7v3.7h-3.7zM1464 1782h3.7v3.7h-3.7zM1467.2 1783.2h3.7v3.7h-3.7zM1471.2 1780.2h3.7v3.7h-3.7zM1474.7 1772.7h3.7v3.7h-3.7zM1478.2 1770.2h3.7v3.7h-3.7zM1481.7 1769.2h3.7v3.7h-3.7zM1485.5 1767.1h3.7v3.7h-3.7zM1489.6 1764.8h3.7v3.7h-3.7z" fill="#000000"/>
</g>
<path d="M1174.8 1410.1 L1178.2 1410.1 L1178.2 1436.8 L1181.8 1436.3 L1176.5 1454.8 L1171.2 1436.3 L1174.8 1436.8 Z" fill="#000"/>
<path d="M1205.6 1500.5 L1209 1500.5 L1209 1527.6 L1212.5 1527.1 L1207.3 1545.6 L1202 1527.1 L1205.6 1527.6 Z" fill="#000"/>
<path d="M1254.2 1583.4 L1257.6 1583.4 L1257.6 1611.5 L1261.2 1611 L1255.9 1629.5 L1250.7 1611 L1254.2 1611.5 Z" fill="#000"/>
<path d="M1309.8 1665 L1313.2 1665 L1313.2 1692.4 L1316.8 1691.9 L1311.5 1710.4 L1306.2 1691.9 L1309.8 1692.4 Z" fill="#000"/>
<path d="M1355 1829.9 L1358.4 1829.9 L1358.4 1857 L1362 1856.5 L1356.7 1875 L1351.5 1856.5 L1355 1857 Z" fill="#000"/>
<rect x="891.3" y="1074.5" width="599.9" height="832.1" fill="none" stroke="#000" stroke-width="4.2"/>
<line x1="923.6" y1="1906.6" x2="923.6" y2="1898.1" stroke="#000" stroke-width="3.2"/>
<line x1="923.6" y1="1074.5" x2="923.6" y2="1083" stroke="#000" stroke-width="3.2"/>
<line x1="1090.4" y1="1906.6" x2="1090.4" y2="1898.1" stroke="#000" stroke-width="3.2"/>
<line x1="1090.4" y1="1074.5" x2="1090.4" y2="1083" stroke="#000" stroke-width="3.2"/>
<line x1="1257.2" y1="1906.6" x2="1257.2" y2="1898.1" stroke="#000" stroke-width="3.2"/>
<line x1="1257.2" y1="1074.5" x2="1257.2" y2="1083" stroke="#000" stroke-width="3.2"/>
<line x1="1424" y1="1906.6" x2="1424" y2="1898.1" stroke="#000" stroke-width="3.2"/>
<line x1="1424" y1="1074.5" x2="1424" y2="1083" stroke="#000" stroke-width="3.2"/>
<line x1="1007" y1="1906.6" x2="1007" y2="1902.6" stroke="#000" stroke-width="3.2"/>
<line x1="1007" y1="1074.5" x2="1007" y2="1078.5" stroke="#000" stroke-width="3.2"/>
<line x1="1173.8" y1="1906.6" x2="1173.8" y2="1902.6" stroke="#000" stroke-width="3.2"/>
<line x1="1173.8" y1="1074.5" x2="1173.8" y2="1078.5" stroke="#000" stroke-width="3.2"/>
<line x1="1340.6" y1="1906.6" x2="1340.6" y2="1902.6" stroke="#000" stroke-width="3.2"/>
<line x1="1340.6" y1="1074.5" x2="1340.6" y2="1078.5" stroke="#000" stroke-width="3.2"/>
<line x1="891.3" y1="1830.1" x2="899.8" y2="1830.1" stroke="#000" stroke-width="3.2"/>
<line x1="1491.2" y1="1830.1" x2="1482.7" y2="1830.1" stroke="#000" stroke-width="3.2"/>
<line x1="891.3" y1="1678.9" x2="899.8" y2="1678.9" stroke="#000" stroke-width="3.2"/>
<line x1="1491.2" y1="1678.9" x2="1482.7" y2="1678.9" stroke="#000" stroke-width="3.2"/>
<line x1="891.3" y1="1527.7" x2="899.8" y2="1527.7" stroke="#000" stroke-width="3.2"/>
<line x1="1491.2" y1="1527.7" x2="1482.7" y2="1527.7" stroke="#000" stroke-width="3.2"/>
<line x1="891.3" y1="1376.5" x2="899.8" y2="1376.5" stroke="#000" stroke-width="3.2"/>
<line x1="1491.2" y1="1376.5" x2="1482.7" y2="1376.5" stroke="#000" stroke-width="3.2"/>
<line x1="891.3" y1="1225.3" x2="899.8" y2="1225.3" stroke="#000" stroke-width="3.2"/>
<line x1="1491.2" y1="1225.3" x2="1482.7" y2="1225.3" stroke="#000" stroke-width="3.2"/>
<line x1="891.3" y1="1754.5" x2="895.3" y2="1754.5" stroke="#000" stroke-width="3.2"/>
<line x1="1491.2" y1="1754.5" x2="1487.2" y2="1754.5" stroke="#000" stroke-width="3.2"/>
<line x1="891.3" y1="1603.3" x2="895.3" y2="1603.3" stroke="#000" stroke-width="3.2"/>
<line x1="1491.2" y1="1603.3" x2="1487.2" y2="1603.3" stroke="#000" stroke-width="3.2"/>
<line x1="891.3" y1="1452.1" x2="895.3" y2="1452.1" stroke="#000" stroke-width="3.2"/>
<line x1="1491.2" y1="1452.1" x2="1487.2" y2="1452.1" stroke="#000" stroke-width="3.2"/>
<line x1="891.3" y1="1300.9" x2="895.3" y2="1300.9" stroke="#000" stroke-width="3.2"/>
<line x1="1491.2" y1="1300.9" x2="1487.2" y2="1300.9" stroke="#000" stroke-width="3.2"/>
<line x1="891.3" y1="1149.7" x2="895.3" y2="1149.7" stroke="#000" stroke-width="3.2"/>
<line x1="1491.2" y1="1149.7" x2="1487.2" y2="1149.7" stroke="#000" stroke-width="3.2"/>
<text x="923.6" y="1946.8" font-size="34" text-anchor="middle">20</text>
<text x="1090.4" y="1946.8" font-size="34" text-anchor="middle">25</text>
<text x="1257.2" y="1946.8" font-size="34" text-anchor="middle">30</text>
<text x="1424" y="1946.8" font-size="34" text-anchor="middle">35</text>
<text x="874.6" y="1839.6" font-size="34" text-anchor="end">0.2</text>
<text x="874.6" y="1688.4" font-size="34" text-anchor="end">0.4</text>
<text x="874.6" y="1537.2" font-size="34" text-anchor="end">0.6</text>
<text x="874.6" y="1386" font-size="34" text-anchor="end">0.8</text>
<text x="874.6" y="1234.8" font-size="34" text-anchor="end">1.0</text>
<text x="874.6" y="1083.6" font-size="34" text-anchor="end">1.2</text>
<text x="1156.5" y="1994.6" font-size="32.5"><tspan font-style="italic">T</tspan> (K)</text>
<text transform="translate(798.3,1491.7) rotate(-90)" text-anchor="middle" font-size="33.7">d<tspan font-family="'Liberation Serif', serif" font-style="italic">ρ</tspan> / d<tspan font-style="italic">T</tspan> (<tspan font-family="'Liberation Serif', serif">μΩ</tspan> cm/K)</text>
<text x="957.9" y="1144.5" font-size="32.9">CDW</text>
<text x="1206.5" y="1139.1" font-size="33.5" fill="#007F00">1.7</text>
<text x="1206.5" y="1253.2" font-size="33.5" fill="#7F0000">1.4</text>
<text x="1206.5" y="1337.5" font-size="33.5" fill="#7F7F00">1.18</text>
<text x="1372.3" y="1395.2" font-size="33.5" fill="#FF00FF">0.95</text>
<text x="1375.2" y="1480.5" font-size="33.5" fill="#0000FF">0.72</text>
<text x="1377.8" y="1568" font-size="33.5" fill="#00FF00">0.47</text>
<text x="1379.9" y="1646" font-size="33.5" fill="#FF0000">0.23</text>
<text x="1390.6" y="1805.6" font-size="33.5">0</text>
<text x="988.5" y="1836.1" font-size="33.6">* Offset applied</text>
<text x="1006.6" y="1875.9" font-size="33.6">for clarity.</text>
</svg></body></html>
